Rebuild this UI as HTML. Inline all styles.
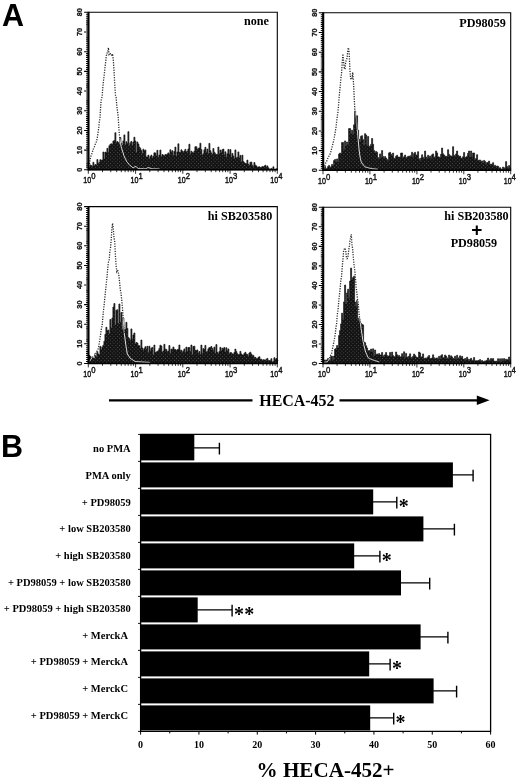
<!DOCTYPE html>
<html><head><meta charset="utf-8"><title>Figure</title>
<style>html,body{margin:0;padding:0;background:#fff}svg{display:block}</style>
</head><body>
<svg width="520" height="780" viewBox="0 0 520 780">
<defs>
<pattern id="ht" width="2.6" height="2.6" patternUnits="userSpaceOnUse" patternTransform="rotate(45)"><rect width="2.6" height="2.6" fill="#121212"/><rect x="0.8" y="0.8" width="0.9" height="0.9" fill="#5e5e5e"/></pattern>
</defs>
<rect width="520" height="780" fill="#fff"/>
<clipPath id="cp0"><path d="M88.9,169.8 L88.9,167.4 L89.9,167.4 L89.9,164.9 L90.9,164.9 L90.9,165.6 L91.9,165.6 L91.9,166.4 L92.9,166.4 L92.9,162.3 L93.9,162.3 L93.9,165.7 L94.9,165.7 L94.9,164.6 L95.9,164.6 L95.9,165.0 L96.9,165.0 L96.9,159.6 L97.9,159.6 L97.9,163.2 L98.9,163.2 L98.9,162.5 L99.9,162.5 L99.9,159.7 L100.9,159.7 L100.9,160.3 L101.9,160.3 L101.9,160.1 L102.9,160.1 L102.9,152.0 L103.9,152.0 L103.9,159.1 L104.9,159.1 L104.9,152.1 L105.9,152.1 L105.9,152.8 L106.9,152.8 L106.9,148.3 L107.9,148.3 L107.9,152.4 L108.9,152.4 L108.9,145.7 L109.9,145.7 L109.9,144.3 L110.9,144.3 L110.9,143.8 L111.9,143.8 L111.9,144.5 L112.9,144.5 L112.9,141.1 L113.9,141.1 L113.9,140.4 L114.9,140.4 L114.9,132.7 L115.9,132.7 L115.9,142.4 L116.9,142.4 L116.9,141.5 L117.9,141.5 L117.9,142.6 L118.9,142.6 L118.9,144.5 L119.9,144.5 L119.9,137.5 L120.9,137.5 L120.9,143.3 L121.9,143.3 L121.9,145.5 L122.9,145.5 L122.9,140.9 L123.9,140.9 L123.9,134.9 L124.9,134.9 L124.9,145.1 L125.9,145.1 L125.9,141.7 L126.9,141.7 L126.9,143.5 L127.9,143.5 L127.9,131.7 L128.9,131.7 L128.9,145.4 L129.9,145.4 L129.9,142.8 L130.9,142.8 L130.9,141.4 L131.9,141.4 L131.9,145.7 L132.9,145.7 L132.9,142.1 L133.9,142.1 L133.9,137.2 L134.9,137.2 L134.9,141.1 L135.9,141.1 L135.9,152.7 L136.9,152.7 L136.9,142.0 L137.9,142.0 L137.9,144.0 L138.9,144.0 L138.9,147.0 L139.9,147.0 L139.9,148.4 L140.9,148.4 L140.9,150.6 L141.9,150.6 L141.9,153.5 L142.9,153.5 L142.9,149.2 L143.9,149.2 L143.9,151.0 L144.9,151.0 L144.9,150.0 L145.9,150.0 L145.9,157.0 L146.9,157.0 L146.9,157.0 L147.9,157.0 L147.9,155.1 L148.9,155.1 L148.9,158.9 L149.9,158.9 L149.9,156.5 L150.9,156.5 L150.9,155.1 L151.9,155.1 L151.9,158.1 L152.9,158.1 L152.9,156.2 L153.9,156.2 L153.9,152.8 L154.9,152.8 L154.9,153.0 L155.9,153.0 L155.9,155.9 L156.9,155.9 L156.9,150.3 L157.9,150.3 L157.9,157.5 L158.9,157.5 L158.9,155.1 L159.9,155.1 L159.9,150.0 L160.9,150.0 L160.9,157.1 L161.9,157.1 L161.9,154.6 L162.9,154.6 L162.9,155.2 L163.9,155.2 L163.9,155.9 L164.9,155.9 L164.9,154.5 L165.9,154.5 L165.9,155.0 L166.9,155.0 L166.9,154.0 L167.9,154.0 L167.9,152.9 L168.9,152.9 L168.9,154.4 L169.9,154.4 L169.9,149.8 L170.9,149.8 L170.9,152.3 L171.9,152.3 L171.9,150.7 L172.9,150.7 L172.9,155.6 L173.9,155.6 L173.9,151.5 L174.9,151.5 L174.9,147.1 L175.9,147.1 L175.9,156.3 L176.9,156.3 L176.9,151.9 L177.9,151.9 L177.9,143.8 L178.9,143.8 L178.9,152.3 L179.9,152.3 L179.9,152.6 L180.9,152.6 L180.9,149.8 L181.9,149.8 L181.9,151.2 L182.9,151.2 L182.9,152.4 L183.9,152.4 L183.9,151.1 L184.9,151.1 L184.9,149.3 L185.9,149.3 L185.9,151.9 L186.9,151.9 L186.9,151.3 L187.9,151.3 L187.9,149.0 L188.9,149.0 L188.9,144.2 L189.9,144.2 L189.9,154.2 L190.9,154.2 L190.9,151.2 L191.9,151.2 L191.9,152.4 L192.9,152.4 L192.9,153.1 L193.9,153.1 L193.9,151.2 L194.9,151.2 L194.9,146.7 L195.9,146.7 L195.9,146.7 L196.9,146.7 L196.9,149.5 L197.9,149.5 L197.9,148.4 L198.9,148.4 L198.9,147.9 L199.9,147.9 L199.9,143.2 L200.9,143.2 L200.9,149.6 L201.9,149.6 L201.9,155.3 L202.9,155.3 L202.9,153.8 L203.9,153.8 L203.9,149.8 L204.9,149.8 L204.9,147.3 L205.9,147.3 L205.9,152.2 L206.9,152.2 L206.9,149.1 L207.9,149.1 L207.9,153.8 L208.9,153.8 L208.9,143.4 L209.9,143.4 L209.9,150.7 L210.9,150.7 L210.9,152.9 L211.9,152.9 L211.9,154.6 L212.9,154.6 L212.9,148.5 L213.9,148.5 L213.9,152.2 L214.9,152.2 L214.9,153.7 L215.9,153.7 L215.9,154.6 L216.9,154.6 L216.9,154.4 L217.9,154.4 L217.9,147.0 L218.9,147.0 L218.9,153.9 L219.9,153.9 L219.9,150.1 L220.9,150.1 L220.9,152.7 L221.9,152.7 L221.9,149.7 L222.9,149.7 L222.9,149.1 L223.9,149.1 L223.9,155.0 L224.9,155.0 L224.9,151.8 L225.9,151.8 L225.9,157.2 L226.9,157.2 L226.9,153.8 L227.9,153.8 L227.9,149.4 L228.9,149.4 L228.9,154.3 L229.9,154.3 L229.9,149.6 L230.9,149.6 L230.9,157.5 L231.9,157.5 L231.9,153.4 L232.9,153.4 L232.9,156.0 L233.9,156.0 L233.9,158.7 L234.9,158.7 L234.9,149.9 L235.9,149.9 L235.9,158.0 L236.9,158.0 L236.9,157.3 L237.9,157.3 L237.9,151.9 L238.9,151.9 L238.9,157.9 L239.9,157.9 L239.9,155.4 L240.9,155.4 L240.9,162.1 L241.9,162.1 L241.9,155.2 L242.9,155.2 L242.9,161.6 L243.9,161.6 L243.9,162.7 L244.9,162.7 L244.9,163.5 L245.9,163.5 L245.9,163.8 L246.9,163.8 L246.9,160.1 L247.9,160.1 L247.9,164.2 L248.9,164.2 L248.9,165.6 L249.9,165.6 L249.9,162.3 L250.9,162.3 L250.9,162.1 L251.9,162.1 L251.9,165.2 L252.9,165.2 L252.9,166.8 L253.9,166.8 L253.9,162.5 L254.9,162.5 L254.9,165.1 L255.9,165.1 L255.9,165.9 L256.9,165.9 L256.9,167.3 L257.9,167.3 L257.9,167.0 L258.9,167.0 L258.9,166.8 L259.9,166.8 L259.9,167.5 L260.9,167.5 L260.9,167.3 L261.9,167.3 L261.9,166.6 L262.9,166.6 L262.9,167.1 L263.9,167.1 L263.9,166.1 L264.9,166.1 L264.9,165.2 L265.9,165.2 L265.9,167.2 L266.9,167.2 L266.9,165.9 L267.9,165.9 L267.9,167.8 L268.9,167.8 L268.9,169.0 L269.9,169.0 L269.9,169.1 L270.9,169.1 L270.9,168.4 L271.9,168.4 L271.9,169.2 L272.9,169.2 L272.9,166.8 L273.9,166.8 L273.9,169.2 L274.9,169.2 L274.9,169.2 L275.9,169.2 L275.9,168.8 L276.9,168.8 L276.9,169.1 L277.9,169.1 L277.1,169.8 Z"/></clipPath>
<path d="M88.9,169.8 L88.9,167.4 L89.9,167.4 L89.9,164.9 L90.9,164.9 L90.9,165.6 L91.9,165.6 L91.9,166.4 L92.9,166.4 L92.9,162.3 L93.9,162.3 L93.9,165.7 L94.9,165.7 L94.9,164.6 L95.9,164.6 L95.9,165.0 L96.9,165.0 L96.9,159.6 L97.9,159.6 L97.9,163.2 L98.9,163.2 L98.9,162.5 L99.9,162.5 L99.9,159.7 L100.9,159.7 L100.9,160.3 L101.9,160.3 L101.9,160.1 L102.9,160.1 L102.9,152.0 L103.9,152.0 L103.9,159.1 L104.9,159.1 L104.9,152.1 L105.9,152.1 L105.9,152.8 L106.9,152.8 L106.9,148.3 L107.9,148.3 L107.9,152.4 L108.9,152.4 L108.9,145.7 L109.9,145.7 L109.9,144.3 L110.9,144.3 L110.9,143.8 L111.9,143.8 L111.9,144.5 L112.9,144.5 L112.9,141.1 L113.9,141.1 L113.9,140.4 L114.9,140.4 L114.9,132.7 L115.9,132.7 L115.9,142.4 L116.9,142.4 L116.9,141.5 L117.9,141.5 L117.9,142.6 L118.9,142.6 L118.9,144.5 L119.9,144.5 L119.9,137.5 L120.9,137.5 L120.9,143.3 L121.9,143.3 L121.9,145.5 L122.9,145.5 L122.9,140.9 L123.9,140.9 L123.9,134.9 L124.9,134.9 L124.9,145.1 L125.9,145.1 L125.9,141.7 L126.9,141.7 L126.9,143.5 L127.9,143.5 L127.9,131.7 L128.9,131.7 L128.9,145.4 L129.9,145.4 L129.9,142.8 L130.9,142.8 L130.9,141.4 L131.9,141.4 L131.9,145.7 L132.9,145.7 L132.9,142.1 L133.9,142.1 L133.9,137.2 L134.9,137.2 L134.9,141.1 L135.9,141.1 L135.9,152.7 L136.9,152.7 L136.9,142.0 L137.9,142.0 L137.9,144.0 L138.9,144.0 L138.9,147.0 L139.9,147.0 L139.9,148.4 L140.9,148.4 L140.9,150.6 L141.9,150.6 L141.9,153.5 L142.9,153.5 L142.9,149.2 L143.9,149.2 L143.9,151.0 L144.9,151.0 L144.9,150.0 L145.9,150.0 L145.9,157.0 L146.9,157.0 L146.9,157.0 L147.9,157.0 L147.9,155.1 L148.9,155.1 L148.9,158.9 L149.9,158.9 L149.9,156.5 L150.9,156.5 L150.9,155.1 L151.9,155.1 L151.9,158.1 L152.9,158.1 L152.9,156.2 L153.9,156.2 L153.9,152.8 L154.9,152.8 L154.9,153.0 L155.9,153.0 L155.9,155.9 L156.9,155.9 L156.9,150.3 L157.9,150.3 L157.9,157.5 L158.9,157.5 L158.9,155.1 L159.9,155.1 L159.9,150.0 L160.9,150.0 L160.9,157.1 L161.9,157.1 L161.9,154.6 L162.9,154.6 L162.9,155.2 L163.9,155.2 L163.9,155.9 L164.9,155.9 L164.9,154.5 L165.9,154.5 L165.9,155.0 L166.9,155.0 L166.9,154.0 L167.9,154.0 L167.9,152.9 L168.9,152.9 L168.9,154.4 L169.9,154.4 L169.9,149.8 L170.9,149.8 L170.9,152.3 L171.9,152.3 L171.9,150.7 L172.9,150.7 L172.9,155.6 L173.9,155.6 L173.9,151.5 L174.9,151.5 L174.9,147.1 L175.9,147.1 L175.9,156.3 L176.9,156.3 L176.9,151.9 L177.9,151.9 L177.9,143.8 L178.9,143.8 L178.9,152.3 L179.9,152.3 L179.9,152.6 L180.9,152.6 L180.9,149.8 L181.9,149.8 L181.9,151.2 L182.9,151.2 L182.9,152.4 L183.9,152.4 L183.9,151.1 L184.9,151.1 L184.9,149.3 L185.9,149.3 L185.9,151.9 L186.9,151.9 L186.9,151.3 L187.9,151.3 L187.9,149.0 L188.9,149.0 L188.9,144.2 L189.9,144.2 L189.9,154.2 L190.9,154.2 L190.9,151.2 L191.9,151.2 L191.9,152.4 L192.9,152.4 L192.9,153.1 L193.9,153.1 L193.9,151.2 L194.9,151.2 L194.9,146.7 L195.9,146.7 L195.9,146.7 L196.9,146.7 L196.9,149.5 L197.9,149.5 L197.9,148.4 L198.9,148.4 L198.9,147.9 L199.9,147.9 L199.9,143.2 L200.9,143.2 L200.9,149.6 L201.9,149.6 L201.9,155.3 L202.9,155.3 L202.9,153.8 L203.9,153.8 L203.9,149.8 L204.9,149.8 L204.9,147.3 L205.9,147.3 L205.9,152.2 L206.9,152.2 L206.9,149.1 L207.9,149.1 L207.9,153.8 L208.9,153.8 L208.9,143.4 L209.9,143.4 L209.9,150.7 L210.9,150.7 L210.9,152.9 L211.9,152.9 L211.9,154.6 L212.9,154.6 L212.9,148.5 L213.9,148.5 L213.9,152.2 L214.9,152.2 L214.9,153.7 L215.9,153.7 L215.9,154.6 L216.9,154.6 L216.9,154.4 L217.9,154.4 L217.9,147.0 L218.9,147.0 L218.9,153.9 L219.9,153.9 L219.9,150.1 L220.9,150.1 L220.9,152.7 L221.9,152.7 L221.9,149.7 L222.9,149.7 L222.9,149.1 L223.9,149.1 L223.9,155.0 L224.9,155.0 L224.9,151.8 L225.9,151.8 L225.9,157.2 L226.9,157.2 L226.9,153.8 L227.9,153.8 L227.9,149.4 L228.9,149.4 L228.9,154.3 L229.9,154.3 L229.9,149.6 L230.9,149.6 L230.9,157.5 L231.9,157.5 L231.9,153.4 L232.9,153.4 L232.9,156.0 L233.9,156.0 L233.9,158.7 L234.9,158.7 L234.9,149.9 L235.9,149.9 L235.9,158.0 L236.9,158.0 L236.9,157.3 L237.9,157.3 L237.9,151.9 L238.9,151.9 L238.9,157.9 L239.9,157.9 L239.9,155.4 L240.9,155.4 L240.9,162.1 L241.9,162.1 L241.9,155.2 L242.9,155.2 L242.9,161.6 L243.9,161.6 L243.9,162.7 L244.9,162.7 L244.9,163.5 L245.9,163.5 L245.9,163.8 L246.9,163.8 L246.9,160.1 L247.9,160.1 L247.9,164.2 L248.9,164.2 L248.9,165.6 L249.9,165.6 L249.9,162.3 L250.9,162.3 L250.9,162.1 L251.9,162.1 L251.9,165.2 L252.9,165.2 L252.9,166.8 L253.9,166.8 L253.9,162.5 L254.9,162.5 L254.9,165.1 L255.9,165.1 L255.9,165.9 L256.9,165.9 L256.9,167.3 L257.9,167.3 L257.9,167.0 L258.9,167.0 L258.9,166.8 L259.9,166.8 L259.9,167.5 L260.9,167.5 L260.9,167.3 L261.9,167.3 L261.9,166.6 L262.9,166.6 L262.9,167.1 L263.9,167.1 L263.9,166.1 L264.9,166.1 L264.9,165.2 L265.9,165.2 L265.9,167.2 L266.9,167.2 L266.9,165.9 L267.9,165.9 L267.9,167.8 L268.9,167.8 L268.9,169.0 L269.9,169.0 L269.9,169.1 L270.9,169.1 L270.9,168.4 L271.9,168.4 L271.9,169.2 L272.9,169.2 L272.9,166.8 L273.9,166.8 L273.9,169.2 L274.9,169.2 L274.9,169.2 L275.9,169.2 L275.9,168.8 L276.9,168.8 L276.9,169.1 L277.9,169.1 L277.1,169.8 Z" fill="url(#ht)" stroke="#111" stroke-width="0.7" stroke-linejoin="round"/>
<path d="M89.5,164.0 L90.2,158.8 L90.9,156.3 L91.6,154.4 L92.3,152.6 L93.0,149.9 L93.7,148.1 L94.4,146.8 L95.1,144.6 L95.8,143.0 L96.5,141.5 L97.2,138.3 L97.9,133.8 L98.6,128.7 L99.3,121.8 L100.0,117.5 L100.7,105.8 L101.4,98.8 L102.1,96.9 L102.8,87.4 L103.5,80.5 L104.2,75.6 L104.9,68.2 L105.6,62.6 L106.3,56.1 L107.0,53.0 L107.7,52.8 L108.4,47.7 L109.1,55.0 L109.8,54.8 L110.5,53.6 L111.2,53.5 L111.9,56.1 L112.6,53.8 L113.3,60.1 L114.0,70.3 L114.7,84.3 L115.4,94.9 L116.1,97.4 L116.8,106.0 L117.5,111.2 L118.2,117.0 L118.9,129.1 L119.6,137.3 L120.3,141.1 L121.0,146.2 L121.7,148.4 L122.4,151.1 L123.1,152.7 L123.8,155.4 L124.5,156.9 L125.2,158.4 L125.9,159.7 L126.6,161.4 L127.3,162.3 L128.0,163.0 L128.7,164.1 L129.4,164.8 L130.1,165.6 L130.8,166.1 L131.5,166.5 L132.2,167.2 L132.9,167.7 L133.6,167.6 L134.3,167.1 L135.0,166.8 L135.7,166.4 L136.4,166.7 L137.1,167.4 L137.8,168.3 L138.5,168.6 L139.2,168.6 L139.9,168.6 L140.6,168.7 L141.3,168.7 L142.0,168.7 L142.7,168.7 L143.4,168.8 L144.1,168.8 L144.8,168.8 L145.5,168.8 L146.2,168.7 L146.9,168.2 L147.6,167.7 L148.3,167.6 L149.0,167.8 L149.7,168.0 L150.4,168.3 L151.1,168.5 L151.8,168.7 L152.5,168.8 L153.2,168.8 L153.9,168.9 L154.6,168.9 L155.3,168.9 L156.0,168.9 L156.7,168.9 L157.4,168.9 L158.1,169.0 L158.8,169.0 L159.5,169.0 " fill="none" stroke="#2a2a2a" stroke-width="1.3" stroke-dasharray="1.2 1.3"/>
<path d="M89.5,164.0 L90.2,158.8 L90.9,156.3 L91.6,154.4 L92.3,152.6 L93.0,149.9 L93.7,148.1 L94.4,146.8 L95.1,144.6 L95.8,143.0 L96.5,141.5 L97.2,138.3 L97.9,133.8 L98.6,128.7 L99.3,121.8 L100.0,117.5 L100.7,105.8 L101.4,98.8 L102.1,96.9 L102.8,87.4 L103.5,80.5 L104.2,75.6 L104.9,68.2 L105.6,62.6 L106.3,56.1 L107.0,53.0 L107.7,52.8 L108.4,47.7 L109.1,55.0 L109.8,54.8 L110.5,53.6 L111.2,53.5 L111.9,56.1 L112.6,53.8 L113.3,60.1 L114.0,70.3 L114.7,84.3 L115.4,94.9 L116.1,97.4 L116.8,106.0 L117.5,111.2 L118.2,117.0 L118.9,129.1 L119.6,137.3 L120.3,141.1 L121.0,146.2 L121.7,148.4 L122.4,151.1 L123.1,152.7 L123.8,155.4 L124.5,156.9 L125.2,158.4 L125.9,159.7 L126.6,161.4 L127.3,162.3 L128.0,163.0 L128.7,164.1 L129.4,164.8 L130.1,165.6 L130.8,166.1 L131.5,166.5 L132.2,167.2 L132.9,167.7 L133.6,167.6 L134.3,167.1 L135.0,166.8 L135.7,166.4 L136.4,166.7 L137.1,167.4 L137.8,168.3 L138.5,168.6 L139.2,168.6 L139.9,168.6 L140.6,168.7 L141.3,168.7 L142.0,168.7 L142.7,168.7 L143.4,168.8 L144.1,168.8 L144.8,168.8 L145.5,168.8 L146.2,168.7 L146.9,168.2 L147.6,167.7 L148.3,167.6 L149.0,167.8 L149.7,168.0 L150.4,168.3 L151.1,168.5 L151.8,168.7 L152.5,168.8 L153.2,168.8 L153.9,168.9 L154.6,168.9 L155.3,168.9 L156.0,168.9 L156.7,168.9 L157.4,168.9 L158.1,169.0 L158.8,169.0 L159.5,169.0 " fill="none" stroke="#f4f4f4" stroke-width="0.9" clip-path="url(#cp0)"/>
<path d="M88.3,12.3 H277.3 V169.8" fill="none" stroke="#000" stroke-width="1.1"/>
<path d="M88.5,11.8 V170.4" fill="none" stroke="#000" stroke-width="2.1"/>
<path d="M87.8,169.8 H277.8" fill="none" stroke="#000" stroke-width="1.5"/>
<path d="M84.1,169.80 H88.3 M86.1,167.83 H88.3 M86.1,165.86 H88.3 M86.1,163.89 H88.3 M86.1,161.93 H88.3 M86.1,159.96 H88.3 M86.1,157.99 H88.3 M86.1,156.02 H88.3 M86.1,154.05 H88.3 M86.1,152.08 H88.3 M84.1,150.11 H88.3 M86.1,148.14 H88.3 M86.1,146.18 H88.3 M86.1,144.21 H88.3 M86.1,142.24 H88.3 M86.1,140.27 H88.3 M86.1,138.30 H88.3 M86.1,136.33 H88.3 M86.1,134.36 H88.3 M86.1,132.39 H88.3 M84.1,130.43 H88.3 M86.1,128.46 H88.3 M86.1,126.49 H88.3 M86.1,124.52 H88.3 M86.1,122.55 H88.3 M86.1,120.58 H88.3 M86.1,118.61 H88.3 M86.1,116.64 H88.3 M86.1,114.68 H88.3 M86.1,112.71 H88.3 M84.1,110.74 H88.3 M86.1,108.77 H88.3 M86.1,106.80 H88.3 M86.1,104.83 H88.3 M86.1,102.86 H88.3 M86.1,100.89 H88.3 M86.1,98.93 H88.3 M86.1,96.96 H88.3 M86.1,94.99 H88.3 M86.1,93.02 H88.3 M84.1,91.05 H88.3 M86.1,89.08 H88.3 M86.1,87.11 H88.3 M86.1,85.14 H88.3 M86.1,83.18 H88.3 M86.1,81.21 H88.3 M86.1,79.24 H88.3 M86.1,77.27 H88.3 M86.1,75.30 H88.3 M86.1,73.33 H88.3 M84.1,71.36 H88.3 M86.1,69.39 H88.3 M86.1,67.43 H88.3 M86.1,65.46 H88.3 M86.1,63.49 H88.3 M86.1,61.52 H88.3 M86.1,59.55 H88.3 M86.1,57.58 H88.3 M86.1,55.61 H88.3 M86.1,53.64 H88.3 M84.1,51.68 H88.3 M86.1,49.71 H88.3 M86.1,47.74 H88.3 M86.1,45.77 H88.3 M86.1,43.80 H88.3 M86.1,41.83 H88.3 M86.1,39.86 H88.3 M86.1,37.89 H88.3 M86.1,35.93 H88.3 M86.1,33.96 H88.3 M84.1,31.99 H88.3 M86.1,30.02 H88.3 M86.1,28.05 H88.3 M86.1,26.08 H88.3 M86.1,24.11 H88.3 M86.1,22.14 H88.3 M86.1,20.18 H88.3 M86.1,18.21 H88.3 M86.1,16.24 H88.3 M86.1,14.27 H88.3 M84.1,12.30 H88.3 " stroke="#000" stroke-width="1.05" fill="none"/>
<text transform="translate(82.3,169.8) rotate(-90)" font-family="'Liberation Sans', sans-serif" font-weight="bold" font-size="8.0" text-anchor="middle" textLength="4.0" lengthAdjust="spacingAndGlyphs" fill="#111" stroke="#111" stroke-width="0.3">0</text>
<text transform="translate(82.3,150.1) rotate(-90)" font-family="'Liberation Sans', sans-serif" font-weight="bold" font-size="8.0" text-anchor="middle" textLength="8.1" lengthAdjust="spacingAndGlyphs" fill="#111" stroke="#111" stroke-width="0.3">10</text>
<text transform="translate(82.3,130.4) rotate(-90)" font-family="'Liberation Sans', sans-serif" font-weight="bold" font-size="8.0" text-anchor="middle" textLength="8.1" lengthAdjust="spacingAndGlyphs" fill="#111" stroke="#111" stroke-width="0.3">20</text>
<text transform="translate(82.3,110.7) rotate(-90)" font-family="'Liberation Sans', sans-serif" font-weight="bold" font-size="8.0" text-anchor="middle" textLength="8.1" lengthAdjust="spacingAndGlyphs" fill="#111" stroke="#111" stroke-width="0.3">30</text>
<text transform="translate(82.3,91.1) rotate(-90)" font-family="'Liberation Sans', sans-serif" font-weight="bold" font-size="8.0" text-anchor="middle" textLength="8.1" lengthAdjust="spacingAndGlyphs" fill="#111" stroke="#111" stroke-width="0.3">40</text>
<text transform="translate(82.3,71.4) rotate(-90)" font-family="'Liberation Sans', sans-serif" font-weight="bold" font-size="8.0" text-anchor="middle" textLength="8.1" lengthAdjust="spacingAndGlyphs" fill="#111" stroke="#111" stroke-width="0.3">50</text>
<text transform="translate(82.3,51.7) rotate(-90)" font-family="'Liberation Sans', sans-serif" font-weight="bold" font-size="8.0" text-anchor="middle" textLength="8.1" lengthAdjust="spacingAndGlyphs" fill="#111" stroke="#111" stroke-width="0.3">60</text>
<text transform="translate(82.3,32.0) rotate(-90)" font-family="'Liberation Sans', sans-serif" font-weight="bold" font-size="8.0" text-anchor="middle" textLength="8.1" lengthAdjust="spacingAndGlyphs" fill="#111" stroke="#111" stroke-width="0.3">70</text>
<text transform="translate(82.3,12.3) rotate(-90)" font-family="'Liberation Sans', sans-serif" font-weight="bold" font-size="8.0" text-anchor="middle" textLength="8.1" lengthAdjust="spacingAndGlyphs" fill="#111" stroke="#111" stroke-width="0.3">80</text>
<path d="M88.3,169.8 v4.0 M102.5,169.8 v2.4 M110.8,169.8 v2.4 M116.7,169.8 v2.4 M121.3,169.8 v2.4 M125.1,169.8 v2.4 M128.2,169.8 v2.4 M131.0,169.8 v2.4 M133.4,169.8 v2.4 M135.6,169.8 v4.0 M149.8,169.8 v2.4 M158.1,169.8 v2.4 M164.0,169.8 v2.4 M168.6,169.8 v2.4 M172.3,169.8 v2.4 M175.5,169.8 v2.4 M178.2,169.8 v2.4 M180.6,169.8 v2.4 M182.8,169.8 v4.0 M197.0,169.8 v2.4 M205.3,169.8 v2.4 M211.2,169.8 v2.4 M215.8,169.8 v2.4 M219.6,169.8 v2.4 M222.7,169.8 v2.4 M225.5,169.8 v2.4 M227.9,169.8 v2.4 M230.1,169.8 v4.0 M244.3,169.8 v2.4 M252.6,169.8 v2.4 M258.5,169.8 v2.4 M263.1,169.8 v2.4 M266.8,169.8 v2.4 M270.0,169.8 v2.4 M272.7,169.8 v2.4 M275.1,169.8 v2.4 M277.3,169.8 v4 " stroke="#000" stroke-width="0.8" fill="none"/>
<text x="83.3" y="183.1" font-family="'Liberation Sans', sans-serif" font-size="9.4" textLength="7.9" lengthAdjust="spacingAndGlyphs" fill="#111" stroke="#111" stroke-width="0.45">10</text>
<text x="91.2" y="179.4" font-family="'Liberation Sans', sans-serif" font-size="8.4" textLength="4.3" lengthAdjust="spacingAndGlyphs" fill="#111" stroke="#111" stroke-width="0.4">0</text>
<text x="130.6" y="183.1" font-family="'Liberation Sans', sans-serif" font-size="9.4" textLength="7.9" lengthAdjust="spacingAndGlyphs" fill="#111" stroke="#111" stroke-width="0.45">10</text>
<text x="138.5" y="179.4" font-family="'Liberation Sans', sans-serif" font-size="8.4" textLength="4.3" lengthAdjust="spacingAndGlyphs" fill="#111" stroke="#111" stroke-width="0.4">1</text>
<text x="177.8" y="183.1" font-family="'Liberation Sans', sans-serif" font-size="9.4" textLength="7.9" lengthAdjust="spacingAndGlyphs" fill="#111" stroke="#111" stroke-width="0.45">10</text>
<text x="185.7" y="179.4" font-family="'Liberation Sans', sans-serif" font-size="8.4" textLength="4.3" lengthAdjust="spacingAndGlyphs" fill="#111" stroke="#111" stroke-width="0.4">2</text>
<text x="225.1" y="183.1" font-family="'Liberation Sans', sans-serif" font-size="9.4" textLength="7.9" lengthAdjust="spacingAndGlyphs" fill="#111" stroke="#111" stroke-width="0.45">10</text>
<text x="233.0" y="179.4" font-family="'Liberation Sans', sans-serif" font-size="8.4" textLength="4.3" lengthAdjust="spacingAndGlyphs" fill="#111" stroke="#111" stroke-width="0.4">3</text>
<text x="270.3" y="183.1" font-family="'Liberation Sans', sans-serif" font-size="9.4" textLength="7.9" lengthAdjust="spacingAndGlyphs" fill="#111" stroke="#111" stroke-width="0.45">10</text>
<text x="278.2" y="179.4" font-family="'Liberation Sans', sans-serif" font-size="8.4" textLength="4.3" lengthAdjust="spacingAndGlyphs" fill="#111" stroke="#111" stroke-width="0.4">4</text>
<text x="268.9" y="25.4" font-family="'Liberation Serif', serif" font-weight="bold" font-size="12.15" text-anchor="end" fill="#000">none</text>
<clipPath id="cp1"><path d="M323.6,170.3 L323.6,168.6 L324.6,168.6 L324.6,166.6 L325.6,166.6 L325.6,168.7 L326.6,168.7 L326.6,168.5 L327.6,168.5 L327.6,166.6 L328.6,166.6 L328.6,165.4 L329.6,165.4 L329.6,167.5 L330.6,167.5 L330.6,166.8 L331.6,166.8 L331.6,164.4 L332.6,164.4 L332.6,165.9 L333.6,165.9 L333.6,160.5 L334.6,160.5 L334.6,159.4 L335.6,159.4 L335.6,161.7 L336.6,161.7 L336.6,158.9 L337.6,158.9 L337.6,161.8 L338.6,161.8 L338.6,154.1 L339.6,154.1 L339.6,153.0 L340.6,153.0 L340.6,153.7 L341.6,153.7 L341.6,142.5 L342.6,142.5 L342.6,142.4 L343.6,142.4 L343.6,149.5 L344.6,149.5 L344.6,140.9 L345.6,140.9 L345.6,145.4 L346.6,145.4 L346.6,142.0 L347.6,142.0 L347.6,144.6 L348.6,144.6 L348.6,128.6 L349.6,128.6 L349.6,128.6 L350.6,128.6 L350.6,134.0 L351.6,134.0 L351.6,130.2 L352.6,130.2 L352.6,134.5 L353.6,134.5 L353.6,124.8 L354.6,124.8 L354.6,111.0 L355.6,111.0 L355.6,123.7 L356.6,123.7 L356.6,115.8 L357.6,115.8 L357.6,130.2 L358.6,130.2 L358.6,139.2 L359.6,139.2 L359.6,141.7 L360.6,141.7 L360.6,136.2 L361.6,136.2 L361.6,135.7 L362.6,135.7 L362.6,139.6 L363.6,139.6 L363.6,144.9 L364.6,144.9 L364.6,133.7 L365.6,133.7 L365.6,135.0 L366.6,135.0 L366.6,145.2 L367.6,145.2 L367.6,136.4 L368.6,136.4 L368.6,146.3 L369.6,146.3 L369.6,146.2 L370.6,146.2 L370.6,144.4 L371.6,144.4 L371.6,138.5 L372.6,138.5 L372.6,144.3 L373.6,144.3 L373.6,150.5 L374.6,150.5 L374.6,152.9 L375.6,152.9 L375.6,151.4 L376.6,151.4 L376.6,152.4 L377.6,152.4 L377.6,157.6 L378.6,157.6 L378.6,158.8 L379.6,158.8 L379.6,153.9 L380.6,153.9 L380.6,157.6 L381.6,157.6 L381.6,150.6 L382.6,150.6 L382.6,156.4 L383.6,156.4 L383.6,158.5 L384.6,158.5 L384.6,156.6 L385.6,156.6 L385.6,158.0 L386.6,158.0 L386.6,159.6 L387.6,159.6 L387.6,160.2 L388.6,160.2 L388.6,152.9 L389.6,152.9 L389.6,152.3 L390.6,152.3 L390.6,154.2 L391.6,154.2 L391.6,156.0 L392.6,156.0 L392.6,153.1 L393.6,153.1 L393.6,158.2 L394.6,158.2 L394.6,159.0 L395.6,159.0 L395.6,156.3 L396.6,156.3 L396.6,155.3 L397.6,155.3 L397.6,157.1 L398.6,157.1 L398.6,157.1 L399.6,157.1 L399.6,157.3 L400.6,157.3 L400.6,153.1 L401.6,153.1 L401.6,153.0 L402.6,153.0 L402.6,157.9 L403.6,157.9 L403.6,156.8 L404.6,156.8 L404.6,155.1 L405.6,155.1 L405.6,158.2 L406.6,158.2 L406.6,157.2 L407.6,157.2 L407.6,156.4 L408.6,156.4 L408.6,156.0 L409.6,156.0 L409.6,156.7 L410.6,156.7 L410.6,155.4 L411.6,155.4 L411.6,152.2 L412.6,152.2 L412.6,157.2 L413.6,157.2 L413.6,153.6 L414.6,153.6 L414.6,152.3 L415.6,152.3 L415.6,154.9 L416.6,154.9 L416.6,155.2 L417.6,155.2 L417.6,151.7 L418.6,151.7 L418.6,158.7 L419.6,158.7 L419.6,160.5 L420.6,160.5 L420.6,158.1 L421.6,158.1 L421.6,154.8 L422.6,154.8 L422.6,157.4 L423.6,157.4 L423.6,158.9 L424.6,158.9 L424.6,151.0 L425.6,151.0 L425.6,157.0 L426.6,157.0 L426.6,158.8 L427.6,158.8 L427.6,155.3 L428.6,155.3 L428.6,158.1 L429.6,158.1 L429.6,156.0 L430.6,156.0 L430.6,158.2 L431.6,158.2 L431.6,154.8 L432.6,154.8 L432.6,153.9 L433.6,153.9 L433.6,158.0 L434.6,158.0 L434.6,156.8 L435.6,156.8 L435.6,151.0 L436.6,151.0 L436.6,152.9 L437.6,152.9 L437.6,156.8 L438.6,156.8 L438.6,157.1 L439.6,157.1 L439.6,158.1 L440.6,158.1 L440.6,154.3 L441.6,154.3 L441.6,148.0 L442.6,148.0 L442.6,153.8 L443.6,153.8 L443.6,155.0 L444.6,155.0 L444.6,156.2 L445.6,156.2 L445.6,156.3 L446.6,156.3 L446.6,156.6 L447.6,156.6 L447.6,149.7 L448.6,149.7 L448.6,154.4 L449.6,154.4 L449.6,155.7 L450.6,155.7 L450.6,156.2 L451.6,156.2 L451.6,156.0 L452.6,156.0 L452.6,146.7 L453.6,146.7 L453.6,155.4 L454.6,155.4 L454.6,156.2 L455.6,156.2 L455.6,154.0 L456.6,154.0 L456.6,151.0 L457.6,151.0 L457.6,155.3 L458.6,155.3 L458.6,156.5 L459.6,156.5 L459.6,156.0 L460.6,156.0 L460.6,158.0 L461.6,158.0 L461.6,158.5 L462.6,158.5 L462.6,156.7 L463.6,156.7 L463.6,152.5 L464.6,152.5 L464.6,158.1 L465.6,158.1 L465.6,157.1 L466.6,157.1 L466.6,156.4 L467.6,156.4 L467.6,153.3 L468.6,153.3 L468.6,151.0 L469.6,151.0 L469.6,156.9 L470.6,156.9 L470.6,151.0 L471.6,151.0 L471.6,157.0 L472.6,157.0 L472.6,153.0 L473.6,153.0 L473.6,153.0 L474.6,153.0 L474.6,159.8 L475.6,159.8 L475.6,158.5 L476.6,158.5 L476.6,154.7 L477.6,154.7 L477.6,160.6 L478.6,160.6 L478.6,160.2 L479.6,160.2 L479.6,160.0 L480.6,160.0 L480.6,161.8 L481.6,161.8 L481.6,160.9 L482.6,160.9 L482.6,162.9 L483.6,162.9 L483.6,160.4 L484.6,160.4 L484.6,161.4 L485.6,161.4 L485.6,164.2 L486.6,164.2 L486.6,162.5 L487.6,162.5 L487.6,162.6 L488.6,162.6 L488.6,161.1 L489.6,161.1 L489.6,164.8 L490.6,164.8 L490.6,164.0 L491.6,164.0 L491.6,164.5 L492.6,164.5 L492.6,162.7 L493.6,162.7 L493.6,166.2 L494.6,166.2 L494.6,165.3 L495.6,165.3 L495.6,166.6 L496.6,166.6 L496.6,166.1 L497.6,166.1 L497.6,166.3 L498.6,166.3 L498.6,168.3 L499.6,168.3 L499.6,167.7 L500.6,167.7 L500.6,169.0 L501.6,169.0 L501.6,169.3 L502.6,169.3 L502.6,167.1 L503.6,167.1 L503.6,169.2 L504.6,169.2 L504.6,167.7 L505.6,167.7 L505.6,161.6 L506.6,161.6 L506.6,166.5 L507.6,166.5 L507.6,168.2 L508.6,168.2 L508.6,165.6 L509.6,165.6 L509.6,167.9 L510.6,167.9 L510.5,170.3 Z"/></clipPath>
<path d="M323.6,170.3 L323.6,168.6 L324.6,168.6 L324.6,166.6 L325.6,166.6 L325.6,168.7 L326.6,168.7 L326.6,168.5 L327.6,168.5 L327.6,166.6 L328.6,166.6 L328.6,165.4 L329.6,165.4 L329.6,167.5 L330.6,167.5 L330.6,166.8 L331.6,166.8 L331.6,164.4 L332.6,164.4 L332.6,165.9 L333.6,165.9 L333.6,160.5 L334.6,160.5 L334.6,159.4 L335.6,159.4 L335.6,161.7 L336.6,161.7 L336.6,158.9 L337.6,158.9 L337.6,161.8 L338.6,161.8 L338.6,154.1 L339.6,154.1 L339.6,153.0 L340.6,153.0 L340.6,153.7 L341.6,153.7 L341.6,142.5 L342.6,142.5 L342.6,142.4 L343.6,142.4 L343.6,149.5 L344.6,149.5 L344.6,140.9 L345.6,140.9 L345.6,145.4 L346.6,145.4 L346.6,142.0 L347.6,142.0 L347.6,144.6 L348.6,144.6 L348.6,128.6 L349.6,128.6 L349.6,128.6 L350.6,128.6 L350.6,134.0 L351.6,134.0 L351.6,130.2 L352.6,130.2 L352.6,134.5 L353.6,134.5 L353.6,124.8 L354.6,124.8 L354.6,111.0 L355.6,111.0 L355.6,123.7 L356.6,123.7 L356.6,115.8 L357.6,115.8 L357.6,130.2 L358.6,130.2 L358.6,139.2 L359.6,139.2 L359.6,141.7 L360.6,141.7 L360.6,136.2 L361.6,136.2 L361.6,135.7 L362.6,135.7 L362.6,139.6 L363.6,139.6 L363.6,144.9 L364.6,144.9 L364.6,133.7 L365.6,133.7 L365.6,135.0 L366.6,135.0 L366.6,145.2 L367.6,145.2 L367.6,136.4 L368.6,136.4 L368.6,146.3 L369.6,146.3 L369.6,146.2 L370.6,146.2 L370.6,144.4 L371.6,144.4 L371.6,138.5 L372.6,138.5 L372.6,144.3 L373.6,144.3 L373.6,150.5 L374.6,150.5 L374.6,152.9 L375.6,152.9 L375.6,151.4 L376.6,151.4 L376.6,152.4 L377.6,152.4 L377.6,157.6 L378.6,157.6 L378.6,158.8 L379.6,158.8 L379.6,153.9 L380.6,153.9 L380.6,157.6 L381.6,157.6 L381.6,150.6 L382.6,150.6 L382.6,156.4 L383.6,156.4 L383.6,158.5 L384.6,158.5 L384.6,156.6 L385.6,156.6 L385.6,158.0 L386.6,158.0 L386.6,159.6 L387.6,159.6 L387.6,160.2 L388.6,160.2 L388.6,152.9 L389.6,152.9 L389.6,152.3 L390.6,152.3 L390.6,154.2 L391.6,154.2 L391.6,156.0 L392.6,156.0 L392.6,153.1 L393.6,153.1 L393.6,158.2 L394.6,158.2 L394.6,159.0 L395.6,159.0 L395.6,156.3 L396.6,156.3 L396.6,155.3 L397.6,155.3 L397.6,157.1 L398.6,157.1 L398.6,157.1 L399.6,157.1 L399.6,157.3 L400.6,157.3 L400.6,153.1 L401.6,153.1 L401.6,153.0 L402.6,153.0 L402.6,157.9 L403.6,157.9 L403.6,156.8 L404.6,156.8 L404.6,155.1 L405.6,155.1 L405.6,158.2 L406.6,158.2 L406.6,157.2 L407.6,157.2 L407.6,156.4 L408.6,156.4 L408.6,156.0 L409.6,156.0 L409.6,156.7 L410.6,156.7 L410.6,155.4 L411.6,155.4 L411.6,152.2 L412.6,152.2 L412.6,157.2 L413.6,157.2 L413.6,153.6 L414.6,153.6 L414.6,152.3 L415.6,152.3 L415.6,154.9 L416.6,154.9 L416.6,155.2 L417.6,155.2 L417.6,151.7 L418.6,151.7 L418.6,158.7 L419.6,158.7 L419.6,160.5 L420.6,160.5 L420.6,158.1 L421.6,158.1 L421.6,154.8 L422.6,154.8 L422.6,157.4 L423.6,157.4 L423.6,158.9 L424.6,158.9 L424.6,151.0 L425.6,151.0 L425.6,157.0 L426.6,157.0 L426.6,158.8 L427.6,158.8 L427.6,155.3 L428.6,155.3 L428.6,158.1 L429.6,158.1 L429.6,156.0 L430.6,156.0 L430.6,158.2 L431.6,158.2 L431.6,154.8 L432.6,154.8 L432.6,153.9 L433.6,153.9 L433.6,158.0 L434.6,158.0 L434.6,156.8 L435.6,156.8 L435.6,151.0 L436.6,151.0 L436.6,152.9 L437.6,152.9 L437.6,156.8 L438.6,156.8 L438.6,157.1 L439.6,157.1 L439.6,158.1 L440.6,158.1 L440.6,154.3 L441.6,154.3 L441.6,148.0 L442.6,148.0 L442.6,153.8 L443.6,153.8 L443.6,155.0 L444.6,155.0 L444.6,156.2 L445.6,156.2 L445.6,156.3 L446.6,156.3 L446.6,156.6 L447.6,156.6 L447.6,149.7 L448.6,149.7 L448.6,154.4 L449.6,154.4 L449.6,155.7 L450.6,155.7 L450.6,156.2 L451.6,156.2 L451.6,156.0 L452.6,156.0 L452.6,146.7 L453.6,146.7 L453.6,155.4 L454.6,155.4 L454.6,156.2 L455.6,156.2 L455.6,154.0 L456.6,154.0 L456.6,151.0 L457.6,151.0 L457.6,155.3 L458.6,155.3 L458.6,156.5 L459.6,156.5 L459.6,156.0 L460.6,156.0 L460.6,158.0 L461.6,158.0 L461.6,158.5 L462.6,158.5 L462.6,156.7 L463.6,156.7 L463.6,152.5 L464.6,152.5 L464.6,158.1 L465.6,158.1 L465.6,157.1 L466.6,157.1 L466.6,156.4 L467.6,156.4 L467.6,153.3 L468.6,153.3 L468.6,151.0 L469.6,151.0 L469.6,156.9 L470.6,156.9 L470.6,151.0 L471.6,151.0 L471.6,157.0 L472.6,157.0 L472.6,153.0 L473.6,153.0 L473.6,153.0 L474.6,153.0 L474.6,159.8 L475.6,159.8 L475.6,158.5 L476.6,158.5 L476.6,154.7 L477.6,154.7 L477.6,160.6 L478.6,160.6 L478.6,160.2 L479.6,160.2 L479.6,160.0 L480.6,160.0 L480.6,161.8 L481.6,161.8 L481.6,160.9 L482.6,160.9 L482.6,162.9 L483.6,162.9 L483.6,160.4 L484.6,160.4 L484.6,161.4 L485.6,161.4 L485.6,164.2 L486.6,164.2 L486.6,162.5 L487.6,162.5 L487.6,162.6 L488.6,162.6 L488.6,161.1 L489.6,161.1 L489.6,164.8 L490.6,164.8 L490.6,164.0 L491.6,164.0 L491.6,164.5 L492.6,164.5 L492.6,162.7 L493.6,162.7 L493.6,166.2 L494.6,166.2 L494.6,165.3 L495.6,165.3 L495.6,166.6 L496.6,166.6 L496.6,166.1 L497.6,166.1 L497.6,166.3 L498.6,166.3 L498.6,168.3 L499.6,168.3 L499.6,167.7 L500.6,167.7 L500.6,169.0 L501.6,169.0 L501.6,169.3 L502.6,169.3 L502.6,167.1 L503.6,167.1 L503.6,169.2 L504.6,169.2 L504.6,167.7 L505.6,167.7 L505.6,161.6 L506.6,161.6 L506.6,166.5 L507.6,166.5 L507.6,168.2 L508.6,168.2 L508.6,165.6 L509.6,165.6 L509.6,167.9 L510.6,167.9 L510.5,170.3 Z" fill="url(#ht)" stroke="#111" stroke-width="0.7" stroke-linejoin="round"/>
<path d="M324.0,168.4 L324.7,166.1 L325.4,163.8 L326.1,162.1 L326.8,160.9 L327.5,159.1 L328.2,157.6 L328.9,156.2 L329.6,155.3 L330.3,153.4 L331.0,151.2 L331.7,148.4 L332.4,145.5 L333.1,143.0 L333.8,139.9 L334.5,136.3 L335.2,132.2 L335.9,128.0 L336.6,121.7 L337.3,116.3 L338.0,111.8 L338.7,103.4 L339.4,94.2 L340.1,87.3 L340.8,78.7 L341.5,73.8 L342.2,62.7 L342.9,53.9 L343.6,61.7 L344.3,67.9 L345.0,69.2 L345.7,62.0 L346.4,60.0 L347.1,57.9 L347.8,49.8 L348.5,47.7 L349.2,53.4 L349.9,70.0 L350.6,78.6 L351.3,78.8 L352.0,79.3 L352.7,72.4 L353.4,81.1 L354.1,94.8 L354.8,109.6 L355.5,114.3 L356.2,117.3 L356.9,124.3 L357.6,133.0 L358.3,141.0 L359.0,148.9 L359.7,154.6 L360.4,158.5 L361.1,161.5 L361.8,162.9 L362.5,164.0 L363.2,164.8 L363.9,165.4 L364.6,166.3 L365.3,167.1 L366.0,167.2 L366.7,167.4 L367.4,167.5 L368.1,167.8 L368.8,167.9 L369.5,168.1 L370.2,168.3 L370.9,168.4 L371.6,168.5 L372.3,168.7 L373.0,168.7 L373.7,168.8 L374.4,168.9 L375.1,168.9 L375.8,169.1 L376.5,169.1 L377.2,169.2 L377.9,169.3 " fill="none" stroke="#2a2a2a" stroke-width="1.3" stroke-dasharray="1.2 1.3"/>
<path d="M324.0,168.4 L324.7,166.1 L325.4,163.8 L326.1,162.1 L326.8,160.9 L327.5,159.1 L328.2,157.6 L328.9,156.2 L329.6,155.3 L330.3,153.4 L331.0,151.2 L331.7,148.4 L332.4,145.5 L333.1,143.0 L333.8,139.9 L334.5,136.3 L335.2,132.2 L335.9,128.0 L336.6,121.7 L337.3,116.3 L338.0,111.8 L338.7,103.4 L339.4,94.2 L340.1,87.3 L340.8,78.7 L341.5,73.8 L342.2,62.7 L342.9,53.9 L343.6,61.7 L344.3,67.9 L345.0,69.2 L345.7,62.0 L346.4,60.0 L347.1,57.9 L347.8,49.8 L348.5,47.7 L349.2,53.4 L349.9,70.0 L350.6,78.6 L351.3,78.8 L352.0,79.3 L352.7,72.4 L353.4,81.1 L354.1,94.8 L354.8,109.6 L355.5,114.3 L356.2,117.3 L356.9,124.3 L357.6,133.0 L358.3,141.0 L359.0,148.9 L359.7,154.6 L360.4,158.5 L361.1,161.5 L361.8,162.9 L362.5,164.0 L363.2,164.8 L363.9,165.4 L364.6,166.3 L365.3,167.1 L366.0,167.2 L366.7,167.4 L367.4,167.5 L368.1,167.8 L368.8,167.9 L369.5,168.1 L370.2,168.3 L370.9,168.4 L371.6,168.5 L372.3,168.7 L373.0,168.7 L373.7,168.8 L374.4,168.9 L375.1,168.9 L375.8,169.1 L376.5,169.1 L377.2,169.2 L377.9,169.3 " fill="none" stroke="#f4f4f4" stroke-width="0.9" clip-path="url(#cp1)"/>
<path d="M323.0,12.8 H510.7 V170.3" fill="none" stroke="#000" stroke-width="1.1"/>
<path d="M323.2,12.3 V170.9" fill="none" stroke="#000" stroke-width="2.1"/>
<path d="M322.5,170.3 H511.2" fill="none" stroke="#000" stroke-width="1.5"/>
<path d="M318.8,170.30 H323.0 M320.8,168.33 H323.0 M320.8,166.36 H323.0 M320.8,164.39 H323.0 M320.8,162.43 H323.0 M320.8,160.46 H323.0 M320.8,158.49 H323.0 M320.8,156.52 H323.0 M320.8,154.55 H323.0 M320.8,152.58 H323.0 M318.8,150.61 H323.0 M320.8,148.64 H323.0 M320.8,146.68 H323.0 M320.8,144.71 H323.0 M320.8,142.74 H323.0 M320.8,140.77 H323.0 M320.8,138.80 H323.0 M320.8,136.83 H323.0 M320.8,134.86 H323.0 M320.8,132.89 H323.0 M318.8,130.93 H323.0 M320.8,128.96 H323.0 M320.8,126.99 H323.0 M320.8,125.02 H323.0 M320.8,123.05 H323.0 M320.8,121.08 H323.0 M320.8,119.11 H323.0 M320.8,117.14 H323.0 M320.8,115.18 H323.0 M320.8,113.21 H323.0 M318.8,111.24 H323.0 M320.8,109.27 H323.0 M320.8,107.30 H323.0 M320.8,105.33 H323.0 M320.8,103.36 H323.0 M320.8,101.39 H323.0 M320.8,99.43 H323.0 M320.8,97.46 H323.0 M320.8,95.49 H323.0 M320.8,93.52 H323.0 M318.8,91.55 H323.0 M320.8,89.58 H323.0 M320.8,87.61 H323.0 M320.8,85.64 H323.0 M320.8,83.68 H323.0 M320.8,81.71 H323.0 M320.8,79.74 H323.0 M320.8,77.77 H323.0 M320.8,75.80 H323.0 M320.8,73.83 H323.0 M318.8,71.86 H323.0 M320.8,69.89 H323.0 M320.8,67.93 H323.0 M320.8,65.96 H323.0 M320.8,63.99 H323.0 M320.8,62.02 H323.0 M320.8,60.05 H323.0 M320.8,58.08 H323.0 M320.8,56.11 H323.0 M320.8,54.14 H323.0 M318.8,52.18 H323.0 M320.8,50.21 H323.0 M320.8,48.24 H323.0 M320.8,46.27 H323.0 M320.8,44.30 H323.0 M320.8,42.33 H323.0 M320.8,40.36 H323.0 M320.8,38.39 H323.0 M320.8,36.43 H323.0 M320.8,34.46 H323.0 M318.8,32.49 H323.0 M320.8,30.52 H323.0 M320.8,28.55 H323.0 M320.8,26.58 H323.0 M320.8,24.61 H323.0 M320.8,22.64 H323.0 M320.8,20.68 H323.0 M320.8,18.71 H323.0 M320.8,16.74 H323.0 M320.8,14.77 H323.0 M318.8,12.80 H323.0 " stroke="#000" stroke-width="1.05" fill="none"/>
<text transform="translate(317.0,170.3) rotate(-90)" font-family="'Liberation Sans', sans-serif" font-weight="bold" font-size="8.0" text-anchor="middle" textLength="4.0" lengthAdjust="spacingAndGlyphs" fill="#111" stroke="#111" stroke-width="0.3">0</text>
<text transform="translate(317.0,150.6) rotate(-90)" font-family="'Liberation Sans', sans-serif" font-weight="bold" font-size="8.0" text-anchor="middle" textLength="8.1" lengthAdjust="spacingAndGlyphs" fill="#111" stroke="#111" stroke-width="0.3">10</text>
<text transform="translate(317.0,130.9) rotate(-90)" font-family="'Liberation Sans', sans-serif" font-weight="bold" font-size="8.0" text-anchor="middle" textLength="8.1" lengthAdjust="spacingAndGlyphs" fill="#111" stroke="#111" stroke-width="0.3">20</text>
<text transform="translate(317.0,111.2) rotate(-90)" font-family="'Liberation Sans', sans-serif" font-weight="bold" font-size="8.0" text-anchor="middle" textLength="8.1" lengthAdjust="spacingAndGlyphs" fill="#111" stroke="#111" stroke-width="0.3">30</text>
<text transform="translate(317.0,91.6) rotate(-90)" font-family="'Liberation Sans', sans-serif" font-weight="bold" font-size="8.0" text-anchor="middle" textLength="8.1" lengthAdjust="spacingAndGlyphs" fill="#111" stroke="#111" stroke-width="0.3">40</text>
<text transform="translate(317.0,71.9) rotate(-90)" font-family="'Liberation Sans', sans-serif" font-weight="bold" font-size="8.0" text-anchor="middle" textLength="8.1" lengthAdjust="spacingAndGlyphs" fill="#111" stroke="#111" stroke-width="0.3">50</text>
<text transform="translate(317.0,52.2) rotate(-90)" font-family="'Liberation Sans', sans-serif" font-weight="bold" font-size="8.0" text-anchor="middle" textLength="8.1" lengthAdjust="spacingAndGlyphs" fill="#111" stroke="#111" stroke-width="0.3">60</text>
<text transform="translate(317.0,32.5) rotate(-90)" font-family="'Liberation Sans', sans-serif" font-weight="bold" font-size="8.0" text-anchor="middle" textLength="8.1" lengthAdjust="spacingAndGlyphs" fill="#111" stroke="#111" stroke-width="0.3">70</text>
<text transform="translate(317.0,12.8) rotate(-90)" font-family="'Liberation Sans', sans-serif" font-weight="bold" font-size="8.0" text-anchor="middle" textLength="8.1" lengthAdjust="spacingAndGlyphs" fill="#111" stroke="#111" stroke-width="0.3">80</text>
<path d="M323.0,170.3 v4.0 M337.1,170.3 v2.4 M345.4,170.3 v2.4 M351.3,170.3 v2.4 M355.8,170.3 v2.4 M359.5,170.3 v2.4 M362.7,170.3 v2.4 M365.4,170.3 v2.4 M367.8,170.3 v2.4 M369.9,170.3 v4.0 M384.1,170.3 v2.4 M392.3,170.3 v2.4 M398.2,170.3 v2.4 M402.7,170.3 v2.4 M406.4,170.3 v2.4 M409.6,170.3 v2.4 M412.3,170.3 v2.4 M414.7,170.3 v2.4 M416.9,170.3 v4.0 M431.0,170.3 v2.4 M439.2,170.3 v2.4 M445.1,170.3 v2.4 M449.6,170.3 v2.4 M453.4,170.3 v2.4 M456.5,170.3 v2.4 M459.2,170.3 v2.4 M461.6,170.3 v2.4 M463.8,170.3 v4.0 M477.9,170.3 v2.4 M486.2,170.3 v2.4 M492.0,170.3 v2.4 M496.6,170.3 v2.4 M500.3,170.3 v2.4 M503.4,170.3 v2.4 M506.2,170.3 v2.4 M508.6,170.3 v2.4 M510.7,170.3 v4 " stroke="#000" stroke-width="0.8" fill="none"/>
<text x="318.0" y="183.6" font-family="'Liberation Sans', sans-serif" font-size="9.4" textLength="7.9" lengthAdjust="spacingAndGlyphs" fill="#111" stroke="#111" stroke-width="0.45">10</text>
<text x="325.9" y="179.9" font-family="'Liberation Sans', sans-serif" font-size="8.4" textLength="4.3" lengthAdjust="spacingAndGlyphs" fill="#111" stroke="#111" stroke-width="0.4">0</text>
<text x="364.9" y="183.6" font-family="'Liberation Sans', sans-serif" font-size="9.4" textLength="7.9" lengthAdjust="spacingAndGlyphs" fill="#111" stroke="#111" stroke-width="0.45">10</text>
<text x="372.8" y="179.9" font-family="'Liberation Sans', sans-serif" font-size="8.4" textLength="4.3" lengthAdjust="spacingAndGlyphs" fill="#111" stroke="#111" stroke-width="0.4">1</text>
<text x="411.9" y="183.6" font-family="'Liberation Sans', sans-serif" font-size="9.4" textLength="7.9" lengthAdjust="spacingAndGlyphs" fill="#111" stroke="#111" stroke-width="0.45">10</text>
<text x="419.8" y="179.9" font-family="'Liberation Sans', sans-serif" font-size="8.4" textLength="4.3" lengthAdjust="spacingAndGlyphs" fill="#111" stroke="#111" stroke-width="0.4">2</text>
<text x="458.8" y="183.6" font-family="'Liberation Sans', sans-serif" font-size="9.4" textLength="7.9" lengthAdjust="spacingAndGlyphs" fill="#111" stroke="#111" stroke-width="0.45">10</text>
<text x="466.7" y="179.9" font-family="'Liberation Sans', sans-serif" font-size="8.4" textLength="4.3" lengthAdjust="spacingAndGlyphs" fill="#111" stroke="#111" stroke-width="0.4">3</text>
<text x="503.7" y="183.6" font-family="'Liberation Sans', sans-serif" font-size="9.4" textLength="7.9" lengthAdjust="spacingAndGlyphs" fill="#111" stroke="#111" stroke-width="0.45">10</text>
<text x="511.6" y="179.9" font-family="'Liberation Sans', sans-serif" font-size="8.4" textLength="4.3" lengthAdjust="spacingAndGlyphs" fill="#111" stroke="#111" stroke-width="0.4">4</text>
<text x="505.8" y="26.8" font-family="'Liberation Serif', serif" font-weight="bold" font-size="12.15" text-anchor="end" fill="#000">PD98059</text>
<clipPath id="cp2"><path d="M88.9,363.4 L88.9,355.6 L89.9,355.6 L89.9,356.3 L90.9,356.3 L90.9,357.9 L91.9,357.9 L91.9,358.0 L92.9,358.0 L92.9,358.0 L93.9,358.0 L93.9,358.6 L94.9,358.6 L94.9,353.4 L95.9,353.4 L95.9,356.8 L96.9,356.8 L96.9,351.5 L97.9,351.5 L97.9,354.1 L98.9,354.1 L98.9,355.0 L99.9,355.0 L99.9,346.4 L100.9,346.4 L100.9,349.8 L101.9,349.8 L101.9,346.9 L102.9,346.9 L102.9,345.2 L103.9,345.2 L103.9,341.2 L104.9,341.2 L104.9,334.3 L105.9,334.3 L105.9,327.3 L106.9,327.3 L106.9,330.7 L107.9,330.7 L107.9,330.1 L108.9,330.1 L108.9,333.8 L109.9,333.8 L109.9,319.5 L110.9,319.5 L110.9,327.9 L111.9,327.9 L111.9,318.1 L112.9,318.1 L112.9,307.0 L113.9,307.0 L113.9,303.5 L114.9,303.5 L114.9,324.9 L115.9,324.9 L115.9,310.2 L116.9,310.2 L116.9,309.8 L117.9,309.8 L117.9,323.6 L118.9,323.6 L118.9,304.0 L119.9,304.0 L119.9,322.2 L120.9,322.2 L120.9,312.5 L121.9,312.5 L121.9,329.6 L122.9,329.6 L122.9,318.0 L123.9,318.0 L123.9,332.9 L124.9,332.9 L124.9,329.3 L125.9,329.3 L125.9,322.3 L126.9,322.3 L126.9,328.4 L127.9,328.4 L127.9,337.5 L128.9,337.5 L128.9,338.7 L129.9,338.7 L129.9,340.4 L130.9,340.4 L130.9,328.9 L131.9,328.9 L131.9,339.2 L132.9,339.2 L132.9,335.0 L133.9,335.0 L133.9,333.0 L134.9,333.0 L134.9,344.0 L135.9,344.0 L135.9,342.5 L136.9,342.5 L136.9,343.0 L137.9,343.0 L137.9,345.4 L138.9,345.4 L138.9,345.7 L139.9,345.7 L139.9,348.6 L140.9,348.6 L140.9,340.0 L141.9,340.0 L141.9,348.0 L142.9,348.0 L142.9,350.4 L143.9,350.4 L143.9,348.6 L144.9,348.6 L144.9,346.7 L145.9,346.7 L145.9,349.2 L146.9,349.2 L146.9,346.3 L147.9,346.3 L147.9,352.7 L148.9,352.7 L148.9,346.2 L149.9,346.2 L149.9,350.9 L150.9,350.9 L150.9,348.2 L151.9,348.2 L151.9,347.4 L152.9,347.4 L152.9,355.0 L153.9,355.0 L153.9,345.1 L154.9,345.1 L154.9,352.4 L155.9,352.4 L155.9,351.9 L156.9,351.9 L156.9,351.6 L157.9,351.6 L157.9,350.6 L158.9,350.6 L158.9,348.4 L159.9,348.4 L159.9,345.2 L160.9,345.2 L160.9,346.0 L161.9,346.0 L161.9,352.3 L162.9,352.3 L162.9,351.1 L163.9,351.1 L163.9,344.3 L164.9,344.3 L164.9,349.2 L165.9,349.2 L165.9,349.4 L166.9,349.4 L166.9,351.8 L167.9,351.8 L167.9,351.1 L168.9,351.1 L168.9,345.5 L169.9,345.5 L169.9,353.4 L170.9,353.4 L170.9,349.1 L171.9,349.1 L171.9,349.4 L172.9,349.4 L172.9,347.0 L173.9,347.0 L173.9,349.2 L174.9,349.2 L174.9,349.5 L175.9,349.5 L175.9,350.6 L176.9,350.6 L176.9,349.8 L177.9,349.8 L177.9,349.1 L178.9,349.1 L178.9,345.0 L179.9,345.0 L179.9,350.4 L180.9,350.4 L180.9,350.2 L181.9,350.2 L181.9,352.4 L182.9,352.4 L182.9,350.9 L183.9,350.9 L183.9,348.9 L184.9,348.9 L184.9,352.4 L185.9,352.4 L185.9,347.1 L186.9,347.1 L186.9,351.6 L187.9,351.6 L187.9,347.5 L188.9,347.5 L188.9,347.6 L189.9,347.6 L189.9,351.6 L190.9,351.6 L190.9,345.0 L191.9,345.0 L191.9,354.8 L192.9,354.8 L192.9,346.5 L193.9,346.5 L193.9,346.2 L194.9,346.2 L194.9,350.3 L195.9,350.3 L195.9,350.6 L196.9,350.6 L196.9,349.9 L197.9,349.9 L197.9,353.3 L198.9,353.3 L198.9,351.5 L199.9,351.5 L199.9,354.5 L200.9,354.5 L200.9,345.1 L201.9,345.1 L201.9,353.4 L202.9,353.4 L202.9,348.6 L203.9,348.6 L203.9,349.5 L204.9,349.5 L204.9,345.4 L205.9,345.4 L205.9,351.9 L206.9,351.9 L206.9,351.4 L207.9,351.4 L207.9,348.8 L208.9,348.8 L208.9,347.5 L209.9,347.5 L209.9,347.5 L210.9,347.5 L210.9,346.5 L211.9,346.5 L211.9,348.5 L212.9,348.5 L212.9,350.4 L213.9,350.4 L213.9,347.1 L214.9,347.1 L214.9,353.6 L215.9,353.6 L215.9,344.6 L216.9,344.6 L216.9,352.3 L217.9,352.3 L217.9,354.1 L218.9,354.1 L218.9,351.5 L219.9,351.5 L219.9,347.3 L220.9,347.3 L220.9,351.1 L221.9,351.1 L221.9,348.2 L222.9,348.2 L222.9,348.8 L223.9,348.8 L223.9,347.4 L224.9,347.4 L224.9,352.1 L225.9,352.1 L225.9,347.8 L226.9,347.8 L226.9,351.0 L227.9,351.0 L227.9,348.9 L228.9,348.9 L228.9,353.9 L229.9,353.9 L229.9,352.6 L230.9,352.6 L230.9,352.8 L231.9,352.8 L231.9,353.9 L232.9,353.9 L232.9,354.2 L233.9,354.2 L233.9,352.6 L234.9,352.6 L234.9,349.1 L235.9,349.1 L235.9,351.6 L236.9,351.6 L236.9,353.7 L237.9,353.7 L237.9,354.7 L238.9,354.7 L238.9,354.5 L239.9,354.5 L239.9,351.4 L240.9,351.4 L240.9,353.9 L241.9,353.9 L241.9,355.1 L242.9,355.1 L242.9,355.1 L243.9,355.1 L243.9,353.4 L244.9,353.4 L244.9,352.3 L245.9,352.3 L245.9,354.1 L246.9,354.1 L246.9,354.4 L247.9,354.4 L247.9,356.2 L248.9,356.2 L248.9,353.0 L249.9,353.0 L249.9,352.2 L250.9,352.2 L250.9,354.1 L251.9,354.1 L251.9,355.4 L252.9,355.4 L252.9,355.4 L253.9,355.4 L253.9,357.4 L254.9,357.4 L254.9,357.3 L255.9,357.3 L255.9,358.7 L256.9,358.7 L256.9,358.6 L257.9,358.6 L257.9,357.6 L258.9,357.6 L258.9,356.7 L259.9,356.7 L259.9,359.3 L260.9,359.3 L260.9,359.2 L261.9,359.2 L261.9,360.4 L262.9,360.4 L262.9,359.7 L263.9,359.7 L263.9,359.9 L264.9,359.9 L264.9,360.3 L265.9,360.3 L265.9,359.2 L266.9,359.2 L266.9,358.4 L267.9,358.4 L267.9,360.4 L268.9,360.4 L268.9,360.6 L269.9,360.6 L269.9,360.8 L270.9,360.8 L270.9,358.7 L271.9,358.7 L271.9,361.9 L272.9,361.9 L272.9,361.4 L273.9,361.4 L273.9,357.7 L274.9,357.7 L274.9,359.8 L275.9,359.8 L275.9,358.6 L276.9,358.6 L276.9,360.0 L277.9,360.0 L277.1,363.4 Z"/></clipPath>
<path d="M88.9,363.4 L88.9,355.6 L89.9,355.6 L89.9,356.3 L90.9,356.3 L90.9,357.9 L91.9,357.9 L91.9,358.0 L92.9,358.0 L92.9,358.0 L93.9,358.0 L93.9,358.6 L94.9,358.6 L94.9,353.4 L95.9,353.4 L95.9,356.8 L96.9,356.8 L96.9,351.5 L97.9,351.5 L97.9,354.1 L98.9,354.1 L98.9,355.0 L99.9,355.0 L99.9,346.4 L100.9,346.4 L100.9,349.8 L101.9,349.8 L101.9,346.9 L102.9,346.9 L102.9,345.2 L103.9,345.2 L103.9,341.2 L104.9,341.2 L104.9,334.3 L105.9,334.3 L105.9,327.3 L106.9,327.3 L106.9,330.7 L107.9,330.7 L107.9,330.1 L108.9,330.1 L108.9,333.8 L109.9,333.8 L109.9,319.5 L110.9,319.5 L110.9,327.9 L111.9,327.9 L111.9,318.1 L112.9,318.1 L112.9,307.0 L113.9,307.0 L113.9,303.5 L114.9,303.5 L114.9,324.9 L115.9,324.9 L115.9,310.2 L116.9,310.2 L116.9,309.8 L117.9,309.8 L117.9,323.6 L118.9,323.6 L118.9,304.0 L119.9,304.0 L119.9,322.2 L120.9,322.2 L120.9,312.5 L121.9,312.5 L121.9,329.6 L122.9,329.6 L122.9,318.0 L123.9,318.0 L123.9,332.9 L124.9,332.9 L124.9,329.3 L125.9,329.3 L125.9,322.3 L126.9,322.3 L126.9,328.4 L127.9,328.4 L127.9,337.5 L128.9,337.5 L128.9,338.7 L129.9,338.7 L129.9,340.4 L130.9,340.4 L130.9,328.9 L131.9,328.9 L131.9,339.2 L132.9,339.2 L132.9,335.0 L133.9,335.0 L133.9,333.0 L134.9,333.0 L134.9,344.0 L135.9,344.0 L135.9,342.5 L136.9,342.5 L136.9,343.0 L137.9,343.0 L137.9,345.4 L138.9,345.4 L138.9,345.7 L139.9,345.7 L139.9,348.6 L140.9,348.6 L140.9,340.0 L141.9,340.0 L141.9,348.0 L142.9,348.0 L142.9,350.4 L143.9,350.4 L143.9,348.6 L144.9,348.6 L144.9,346.7 L145.9,346.7 L145.9,349.2 L146.9,349.2 L146.9,346.3 L147.9,346.3 L147.9,352.7 L148.9,352.7 L148.9,346.2 L149.9,346.2 L149.9,350.9 L150.9,350.9 L150.9,348.2 L151.9,348.2 L151.9,347.4 L152.9,347.4 L152.9,355.0 L153.9,355.0 L153.9,345.1 L154.9,345.1 L154.9,352.4 L155.9,352.4 L155.9,351.9 L156.9,351.9 L156.9,351.6 L157.9,351.6 L157.9,350.6 L158.9,350.6 L158.9,348.4 L159.9,348.4 L159.9,345.2 L160.9,345.2 L160.9,346.0 L161.9,346.0 L161.9,352.3 L162.9,352.3 L162.9,351.1 L163.9,351.1 L163.9,344.3 L164.9,344.3 L164.9,349.2 L165.9,349.2 L165.9,349.4 L166.9,349.4 L166.9,351.8 L167.9,351.8 L167.9,351.1 L168.9,351.1 L168.9,345.5 L169.9,345.5 L169.9,353.4 L170.9,353.4 L170.9,349.1 L171.9,349.1 L171.9,349.4 L172.9,349.4 L172.9,347.0 L173.9,347.0 L173.9,349.2 L174.9,349.2 L174.9,349.5 L175.9,349.5 L175.9,350.6 L176.9,350.6 L176.9,349.8 L177.9,349.8 L177.9,349.1 L178.9,349.1 L178.9,345.0 L179.9,345.0 L179.9,350.4 L180.9,350.4 L180.9,350.2 L181.9,350.2 L181.9,352.4 L182.9,352.4 L182.9,350.9 L183.9,350.9 L183.9,348.9 L184.9,348.9 L184.9,352.4 L185.9,352.4 L185.9,347.1 L186.9,347.1 L186.9,351.6 L187.9,351.6 L187.9,347.5 L188.9,347.5 L188.9,347.6 L189.9,347.6 L189.9,351.6 L190.9,351.6 L190.9,345.0 L191.9,345.0 L191.9,354.8 L192.9,354.8 L192.9,346.5 L193.9,346.5 L193.9,346.2 L194.9,346.2 L194.9,350.3 L195.9,350.3 L195.9,350.6 L196.9,350.6 L196.9,349.9 L197.9,349.9 L197.9,353.3 L198.9,353.3 L198.9,351.5 L199.9,351.5 L199.9,354.5 L200.9,354.5 L200.9,345.1 L201.9,345.1 L201.9,353.4 L202.9,353.4 L202.9,348.6 L203.9,348.6 L203.9,349.5 L204.9,349.5 L204.9,345.4 L205.9,345.4 L205.9,351.9 L206.9,351.9 L206.9,351.4 L207.9,351.4 L207.9,348.8 L208.9,348.8 L208.9,347.5 L209.9,347.5 L209.9,347.5 L210.9,347.5 L210.9,346.5 L211.9,346.5 L211.9,348.5 L212.9,348.5 L212.9,350.4 L213.9,350.4 L213.9,347.1 L214.9,347.1 L214.9,353.6 L215.9,353.6 L215.9,344.6 L216.9,344.6 L216.9,352.3 L217.9,352.3 L217.9,354.1 L218.9,354.1 L218.9,351.5 L219.9,351.5 L219.9,347.3 L220.9,347.3 L220.9,351.1 L221.9,351.1 L221.9,348.2 L222.9,348.2 L222.9,348.8 L223.9,348.8 L223.9,347.4 L224.9,347.4 L224.9,352.1 L225.9,352.1 L225.9,347.8 L226.9,347.8 L226.9,351.0 L227.9,351.0 L227.9,348.9 L228.9,348.9 L228.9,353.9 L229.9,353.9 L229.9,352.6 L230.9,352.6 L230.9,352.8 L231.9,352.8 L231.9,353.9 L232.9,353.9 L232.9,354.2 L233.9,354.2 L233.9,352.6 L234.9,352.6 L234.9,349.1 L235.9,349.1 L235.9,351.6 L236.9,351.6 L236.9,353.7 L237.9,353.7 L237.9,354.7 L238.9,354.7 L238.9,354.5 L239.9,354.5 L239.9,351.4 L240.9,351.4 L240.9,353.9 L241.9,353.9 L241.9,355.1 L242.9,355.1 L242.9,355.1 L243.9,355.1 L243.9,353.4 L244.9,353.4 L244.9,352.3 L245.9,352.3 L245.9,354.1 L246.9,354.1 L246.9,354.4 L247.9,354.4 L247.9,356.2 L248.9,356.2 L248.9,353.0 L249.9,353.0 L249.9,352.2 L250.9,352.2 L250.9,354.1 L251.9,354.1 L251.9,355.4 L252.9,355.4 L252.9,355.4 L253.9,355.4 L253.9,357.4 L254.9,357.4 L254.9,357.3 L255.9,357.3 L255.9,358.7 L256.9,358.7 L256.9,358.6 L257.9,358.6 L257.9,357.6 L258.9,357.6 L258.9,356.7 L259.9,356.7 L259.9,359.3 L260.9,359.3 L260.9,359.2 L261.9,359.2 L261.9,360.4 L262.9,360.4 L262.9,359.7 L263.9,359.7 L263.9,359.9 L264.9,359.9 L264.9,360.3 L265.9,360.3 L265.9,359.2 L266.9,359.2 L266.9,358.4 L267.9,358.4 L267.9,360.4 L268.9,360.4 L268.9,360.6 L269.9,360.6 L269.9,360.8 L270.9,360.8 L270.9,358.7 L271.9,358.7 L271.9,361.9 L272.9,361.9 L272.9,361.4 L273.9,361.4 L273.9,357.7 L274.9,357.7 L274.9,359.8 L275.9,359.8 L275.9,358.6 L276.9,358.6 L276.9,360.0 L277.9,360.0 L277.1,363.4 Z" fill="url(#ht)" stroke="#111" stroke-width="0.7" stroke-linejoin="round"/>
<path d="M89.5,361.4 L90.2,360.4 L90.9,359.3 L91.6,358.1 L92.3,357.1 L93.0,356.9 L93.7,356.6 L94.4,355.8 L95.1,355.4 L95.8,353.8 L96.5,352.5 L97.2,350.7 L97.9,349.6 L98.6,347.3 L99.3,343.0 L100.0,338.6 L100.7,333.4 L101.4,328.8 L102.1,326.1 L102.8,317.7 L103.5,310.7 L104.2,304.4 L104.9,297.3 L105.6,290.3 L106.3,283.2 L107.0,277.2 L107.7,268.5 L108.4,262.3 L109.1,260.7 L109.8,252.3 L110.5,247.8 L111.2,240.1 L111.9,228.7 L112.6,223.3 L113.3,228.4 L114.0,237.6 L114.7,241.7 L115.4,255.8 L116.1,265.8 L116.8,271.4 L117.5,269.9 L118.2,272.1 L118.9,275.6 L119.6,282.3 L120.3,289.7 L121.0,293.1 L121.7,299.9 L122.4,306.8 L123.1,317.9 L123.8,326.5 L124.5,334.9 L125.2,340.1 L125.9,345.5 L126.6,349.8 L127.3,354.0 L128.0,355.0 L128.7,356.0 L129.4,356.9 L130.1,358.1 L130.8,358.8 L131.5,359.2 L132.2,359.5 L132.9,360.0 L133.6,360.6 L134.3,361.0 L135.0,361.4 L135.7,361.5 L136.4,361.5 L137.1,361.5 L137.8,361.7 L138.5,361.7 L139.2,361.7 L139.9,361.7 L140.6,361.8 L141.3,361.9 L142.0,361.9 L142.7,362.0 L143.4,362.0 L144.1,362.1 L144.8,362.1 L145.5,362.2 L146.2,362.2 L146.9,362.2 L147.6,362.2 L148.3,362.3 L149.0,362.3 L149.7,362.4 " fill="none" stroke="#2a2a2a" stroke-width="1.3" stroke-dasharray="1.2 1.3"/>
<path d="M89.5,361.4 L90.2,360.4 L90.9,359.3 L91.6,358.1 L92.3,357.1 L93.0,356.9 L93.7,356.6 L94.4,355.8 L95.1,355.4 L95.8,353.8 L96.5,352.5 L97.2,350.7 L97.9,349.6 L98.6,347.3 L99.3,343.0 L100.0,338.6 L100.7,333.4 L101.4,328.8 L102.1,326.1 L102.8,317.7 L103.5,310.7 L104.2,304.4 L104.9,297.3 L105.6,290.3 L106.3,283.2 L107.0,277.2 L107.7,268.5 L108.4,262.3 L109.1,260.7 L109.8,252.3 L110.5,247.8 L111.2,240.1 L111.9,228.7 L112.6,223.3 L113.3,228.4 L114.0,237.6 L114.7,241.7 L115.4,255.8 L116.1,265.8 L116.8,271.4 L117.5,269.9 L118.2,272.1 L118.9,275.6 L119.6,282.3 L120.3,289.7 L121.0,293.1 L121.7,299.9 L122.4,306.8 L123.1,317.9 L123.8,326.5 L124.5,334.9 L125.2,340.1 L125.9,345.5 L126.6,349.8 L127.3,354.0 L128.0,355.0 L128.7,356.0 L129.4,356.9 L130.1,358.1 L130.8,358.8 L131.5,359.2 L132.2,359.5 L132.9,360.0 L133.6,360.6 L134.3,361.0 L135.0,361.4 L135.7,361.5 L136.4,361.5 L137.1,361.5 L137.8,361.7 L138.5,361.7 L139.2,361.7 L139.9,361.7 L140.6,361.8 L141.3,361.9 L142.0,361.9 L142.7,362.0 L143.4,362.0 L144.1,362.1 L144.8,362.1 L145.5,362.2 L146.2,362.2 L146.9,362.2 L147.6,362.2 L148.3,362.3 L149.0,362.3 L149.7,362.4 " fill="none" stroke="#f4f4f4" stroke-width="0.9" clip-path="url(#cp2)"/>
<path d="M88.3,206.6 H277.3 V363.4" fill="none" stroke="#000" stroke-width="1.1"/>
<path d="M88.5,206.1 V364.0" fill="none" stroke="#000" stroke-width="2.1"/>
<path d="M87.8,363.4 H277.8" fill="none" stroke="#000" stroke-width="1.5"/>
<path d="M84.1,363.40 H88.3 M86.1,361.44 H88.3 M86.1,359.48 H88.3 M86.1,357.52 H88.3 M86.1,355.56 H88.3 M86.1,353.60 H88.3 M86.1,351.64 H88.3 M86.1,349.68 H88.3 M86.1,347.72 H88.3 M86.1,345.76 H88.3 M84.1,343.80 H88.3 M86.1,341.84 H88.3 M86.1,339.88 H88.3 M86.1,337.92 H88.3 M86.1,335.96 H88.3 M86.1,334.00 H88.3 M86.1,332.04 H88.3 M86.1,330.08 H88.3 M86.1,328.12 H88.3 M86.1,326.16 H88.3 M84.1,324.20 H88.3 M86.1,322.24 H88.3 M86.1,320.28 H88.3 M86.1,318.32 H88.3 M86.1,316.36 H88.3 M86.1,314.40 H88.3 M86.1,312.44 H88.3 M86.1,310.48 H88.3 M86.1,308.52 H88.3 M86.1,306.56 H88.3 M84.1,304.60 H88.3 M86.1,302.64 H88.3 M86.1,300.68 H88.3 M86.1,298.72 H88.3 M86.1,296.76 H88.3 M86.1,294.80 H88.3 M86.1,292.84 H88.3 M86.1,290.88 H88.3 M86.1,288.92 H88.3 M86.1,286.96 H88.3 M84.1,285.00 H88.3 M86.1,283.04 H88.3 M86.1,281.08 H88.3 M86.1,279.12 H88.3 M86.1,277.16 H88.3 M86.1,275.20 H88.3 M86.1,273.24 H88.3 M86.1,271.28 H88.3 M86.1,269.32 H88.3 M86.1,267.36 H88.3 M84.1,265.40 H88.3 M86.1,263.44 H88.3 M86.1,261.48 H88.3 M86.1,259.52 H88.3 M86.1,257.56 H88.3 M86.1,255.60 H88.3 M86.1,253.64 H88.3 M86.1,251.68 H88.3 M86.1,249.72 H88.3 M86.1,247.76 H88.3 M84.1,245.80 H88.3 M86.1,243.84 H88.3 M86.1,241.88 H88.3 M86.1,239.92 H88.3 M86.1,237.96 H88.3 M86.1,236.00 H88.3 M86.1,234.04 H88.3 M86.1,232.08 H88.3 M86.1,230.12 H88.3 M86.1,228.16 H88.3 M84.1,226.20 H88.3 M86.1,224.24 H88.3 M86.1,222.28 H88.3 M86.1,220.32 H88.3 M86.1,218.36 H88.3 M86.1,216.40 H88.3 M86.1,214.44 H88.3 M86.1,212.48 H88.3 M86.1,210.52 H88.3 M86.1,208.56 H88.3 M84.1,206.60 H88.3 " stroke="#000" stroke-width="1.05" fill="none"/>
<text transform="translate(82.3,363.4) rotate(-90)" font-family="'Liberation Sans', sans-serif" font-weight="bold" font-size="8.0" text-anchor="middle" textLength="4.0" lengthAdjust="spacingAndGlyphs" fill="#111" stroke="#111" stroke-width="0.3">0</text>
<text transform="translate(82.3,343.8) rotate(-90)" font-family="'Liberation Sans', sans-serif" font-weight="bold" font-size="8.0" text-anchor="middle" textLength="8.1" lengthAdjust="spacingAndGlyphs" fill="#111" stroke="#111" stroke-width="0.3">10</text>
<text transform="translate(82.3,324.2) rotate(-90)" font-family="'Liberation Sans', sans-serif" font-weight="bold" font-size="8.0" text-anchor="middle" textLength="8.1" lengthAdjust="spacingAndGlyphs" fill="#111" stroke="#111" stroke-width="0.3">20</text>
<text transform="translate(82.3,304.6) rotate(-90)" font-family="'Liberation Sans', sans-serif" font-weight="bold" font-size="8.0" text-anchor="middle" textLength="8.1" lengthAdjust="spacingAndGlyphs" fill="#111" stroke="#111" stroke-width="0.3">30</text>
<text transform="translate(82.3,285.0) rotate(-90)" font-family="'Liberation Sans', sans-serif" font-weight="bold" font-size="8.0" text-anchor="middle" textLength="8.1" lengthAdjust="spacingAndGlyphs" fill="#111" stroke="#111" stroke-width="0.3">40</text>
<text transform="translate(82.3,265.4) rotate(-90)" font-family="'Liberation Sans', sans-serif" font-weight="bold" font-size="8.0" text-anchor="middle" textLength="8.1" lengthAdjust="spacingAndGlyphs" fill="#111" stroke="#111" stroke-width="0.3">50</text>
<text transform="translate(82.3,245.8) rotate(-90)" font-family="'Liberation Sans', sans-serif" font-weight="bold" font-size="8.0" text-anchor="middle" textLength="8.1" lengthAdjust="spacingAndGlyphs" fill="#111" stroke="#111" stroke-width="0.3">60</text>
<text transform="translate(82.3,226.2) rotate(-90)" font-family="'Liberation Sans', sans-serif" font-weight="bold" font-size="8.0" text-anchor="middle" textLength="8.1" lengthAdjust="spacingAndGlyphs" fill="#111" stroke="#111" stroke-width="0.3">70</text>
<text transform="translate(82.3,206.6) rotate(-90)" font-family="'Liberation Sans', sans-serif" font-weight="bold" font-size="8.0" text-anchor="middle" textLength="8.1" lengthAdjust="spacingAndGlyphs" fill="#111" stroke="#111" stroke-width="0.3">80</text>
<path d="M88.3,363.4 v4.0 M102.5,363.4 v2.4 M110.8,363.4 v2.4 M116.7,363.4 v2.4 M121.3,363.4 v2.4 M125.1,363.4 v2.4 M128.2,363.4 v2.4 M131.0,363.4 v2.4 M133.4,363.4 v2.4 M135.6,363.4 v4.0 M149.8,363.4 v2.4 M158.1,363.4 v2.4 M164.0,363.4 v2.4 M168.6,363.4 v2.4 M172.3,363.4 v2.4 M175.5,363.4 v2.4 M178.2,363.4 v2.4 M180.6,363.4 v2.4 M182.8,363.4 v4.0 M197.0,363.4 v2.4 M205.3,363.4 v2.4 M211.2,363.4 v2.4 M215.8,363.4 v2.4 M219.6,363.4 v2.4 M222.7,363.4 v2.4 M225.5,363.4 v2.4 M227.9,363.4 v2.4 M230.1,363.4 v4.0 M244.3,363.4 v2.4 M252.6,363.4 v2.4 M258.5,363.4 v2.4 M263.1,363.4 v2.4 M266.8,363.4 v2.4 M270.0,363.4 v2.4 M272.7,363.4 v2.4 M275.1,363.4 v2.4 M277.3,363.4 v4 " stroke="#000" stroke-width="0.8" fill="none"/>
<text x="83.3" y="376.7" font-family="'Liberation Sans', sans-serif" font-size="9.4" textLength="7.9" lengthAdjust="spacingAndGlyphs" fill="#111" stroke="#111" stroke-width="0.45">10</text>
<text x="91.2" y="373.0" font-family="'Liberation Sans', sans-serif" font-size="8.4" textLength="4.3" lengthAdjust="spacingAndGlyphs" fill="#111" stroke="#111" stroke-width="0.4">0</text>
<text x="130.6" y="376.7" font-family="'Liberation Sans', sans-serif" font-size="9.4" textLength="7.9" lengthAdjust="spacingAndGlyphs" fill="#111" stroke="#111" stroke-width="0.45">10</text>
<text x="138.5" y="373.0" font-family="'Liberation Sans', sans-serif" font-size="8.4" textLength="4.3" lengthAdjust="spacingAndGlyphs" fill="#111" stroke="#111" stroke-width="0.4">1</text>
<text x="177.8" y="376.7" font-family="'Liberation Sans', sans-serif" font-size="9.4" textLength="7.9" lengthAdjust="spacingAndGlyphs" fill="#111" stroke="#111" stroke-width="0.45">10</text>
<text x="185.7" y="373.0" font-family="'Liberation Sans', sans-serif" font-size="8.4" textLength="4.3" lengthAdjust="spacingAndGlyphs" fill="#111" stroke="#111" stroke-width="0.4">2</text>
<text x="225.1" y="376.7" font-family="'Liberation Sans', sans-serif" font-size="9.4" textLength="7.9" lengthAdjust="spacingAndGlyphs" fill="#111" stroke="#111" stroke-width="0.45">10</text>
<text x="233.0" y="373.0" font-family="'Liberation Sans', sans-serif" font-size="8.4" textLength="4.3" lengthAdjust="spacingAndGlyphs" fill="#111" stroke="#111" stroke-width="0.4">3</text>
<text x="270.3" y="376.7" font-family="'Liberation Sans', sans-serif" font-size="9.4" textLength="7.9" lengthAdjust="spacingAndGlyphs" fill="#111" stroke="#111" stroke-width="0.45">10</text>
<text x="278.2" y="373.0" font-family="'Liberation Sans', sans-serif" font-size="8.4" textLength="4.3" lengthAdjust="spacingAndGlyphs" fill="#111" stroke="#111" stroke-width="0.4">4</text>
<text x="272.3" y="220.0" font-family="'Liberation Serif', serif" font-weight="bold" font-size="12.15" text-anchor="end" fill="#000">hi SB203580</text>
<clipPath id="cp3"><path d="M323.6,363.5 L323.6,360.1 L324.6,360.1 L324.6,360.2 L325.6,360.2 L325.6,360.0 L326.6,360.0 L326.6,360.1 L327.6,360.1 L327.6,358.5 L328.6,358.5 L328.6,359.8 L329.6,359.8 L329.6,360.7 L330.6,360.7 L330.6,356.3 L331.6,356.3 L331.6,356.3 L332.6,356.3 L332.6,359.9 L333.6,359.9 L333.6,356.1 L334.6,356.1 L334.6,349.1 L335.6,349.1 L335.6,348.5 L336.6,348.5 L336.6,345.5 L337.6,345.5 L337.6,347.8 L338.6,347.8 L338.6,335.5 L339.6,335.5 L339.6,330.4 L340.6,330.4 L340.6,323.9 L341.6,323.9 L341.6,313.2 L342.6,313.2 L342.6,319.4 L343.6,319.4 L343.6,301.9 L344.6,301.9 L344.6,285.0 L345.6,285.0 L345.6,304.1 L346.6,304.1 L346.6,292.9 L347.6,292.9 L347.6,289.2 L348.6,289.2 L348.6,298.2 L349.6,298.2 L349.6,281.1 L350.6,281.1 L350.6,268.1 L351.6,268.1 L351.6,279.4 L352.6,279.4 L352.6,277.5 L353.6,277.5 L353.6,276.2 L354.6,276.2 L354.6,302.1 L355.6,302.1 L355.6,306.5 L356.6,306.5 L356.6,300.6 L357.6,300.6 L357.6,320.5 L358.6,320.5 L358.6,318.1 L359.6,318.1 L359.6,321.0 L360.6,321.0 L360.6,323.6 L361.6,323.6 L361.6,324.4 L362.6,324.4 L362.6,324.9 L363.6,324.9 L363.6,342.0 L364.6,342.0 L364.6,342.7 L365.6,342.7 L365.6,345.7 L366.6,345.7 L366.6,347.9 L367.6,347.9 L367.6,351.1 L368.6,351.1 L368.6,350.5 L369.6,350.5 L369.6,351.2 L370.6,351.2 L370.6,349.1 L371.6,349.1 L371.6,352.1 L372.6,352.1 L372.6,348.8 L373.6,348.8 L373.6,355.7 L374.6,355.7 L374.6,350.0 L375.6,350.0 L375.6,354.7 L376.6,354.7 L376.6,353.9 L377.6,353.9 L377.6,354.9 L378.6,354.9 L378.6,353.6 L379.6,353.6 L379.6,355.0 L380.6,355.0 L380.6,355.1 L381.6,355.1 L381.6,352.5 L382.6,352.5 L382.6,357.1 L383.6,357.1 L383.6,355.4 L384.6,355.4 L384.6,354.8 L385.6,354.8 L385.6,352.5 L386.6,352.5 L386.6,355.6 L387.6,355.6 L387.6,356.2 L388.6,356.2 L388.6,355.9 L389.6,355.9 L389.6,352.5 L390.6,352.5 L390.6,356.8 L391.6,356.8 L391.6,352.1 L392.6,352.1 L392.6,355.6 L393.6,355.6 L393.6,356.9 L394.6,356.9 L394.6,356.6 L395.6,356.6 L395.6,352.0 L396.6,352.0 L396.6,354.8 L397.6,354.8 L397.6,356.8 L398.6,356.8 L398.6,355.4 L399.6,355.4 L399.6,356.9 L400.6,356.9 L400.6,356.8 L401.6,356.8 L401.6,353.7 L402.6,353.7 L402.6,356.5 L403.6,356.5 L403.6,351.8 L404.6,351.8 L404.6,358.1 L405.6,358.1 L405.6,353.4 L406.6,353.4 L406.6,356.9 L407.6,356.9 L407.6,357.6 L408.6,357.6 L408.6,356.1 L409.6,356.1 L409.6,353.8 L410.6,353.8 L410.6,357.4 L411.6,357.4 L411.6,357.4 L412.6,357.4 L412.6,356.3 L413.6,356.3 L413.6,354.1 L414.6,354.1 L414.6,355.4 L415.6,355.4 L415.6,356.9 L416.6,356.9 L416.6,357.6 L417.6,357.6 L417.6,357.5 L418.6,357.5 L418.6,352.0 L419.6,352.0 L419.6,353.0 L420.6,353.0 L420.6,357.3 L421.6,357.3 L421.6,356.8 L422.6,356.8 L422.6,353.9 L423.6,353.9 L423.6,358.8 L424.6,358.8 L424.6,358.2 L425.6,358.2 L425.6,358.0 L426.6,358.0 L426.6,358.0 L427.6,358.0 L427.6,356.7 L428.6,356.7 L428.6,355.5 L429.6,355.5 L429.6,358.5 L430.6,358.5 L430.6,358.4 L431.6,358.4 L431.6,358.0 L432.6,358.0 L432.6,354.8 L433.6,354.8 L433.6,357.7 L434.6,357.7 L434.6,359.0 L435.6,359.0 L435.6,358.2 L436.6,358.2 L436.6,357.9 L437.6,357.9 L437.6,359.3 L438.6,359.3 L438.6,356.3 L439.6,356.3 L439.6,358.7 L440.6,358.7 L440.6,355.7 L441.6,355.7 L441.6,354.7 L442.6,354.7 L442.6,357.9 L443.6,357.9 L443.6,357.6 L444.6,357.6 L444.6,355.1 L445.6,355.1 L445.6,356.1 L446.6,356.1 L446.6,358.8 L447.6,358.8 L447.6,357.8 L448.6,357.8 L448.6,355.1 L449.6,355.1 L449.6,357.4 L450.6,357.4 L450.6,355.8 L451.6,355.8 L451.6,356.9 L452.6,356.9 L452.6,358.3 L453.6,358.3 L453.6,359.0 L454.6,359.0 L454.6,356.2 L455.6,356.2 L455.6,359.3 L456.6,359.3 L456.6,355.3 L457.6,355.3 L457.6,358.4 L458.6,358.4 L458.6,357.7 L459.6,357.7 L459.6,355.8 L460.6,355.8 L460.6,357.7 L461.6,357.7 L461.6,356.3 L462.6,356.3 L462.6,359.1 L463.6,359.1 L463.6,359.5 L464.6,359.5 L464.6,358.5 L465.6,358.5 L465.6,359.7 L466.6,359.7 L466.6,357.2 L467.6,357.2 L467.6,359.2 L468.6,359.2 L468.6,360.7 L469.6,360.7 L469.6,359.3 L470.6,359.3 L470.6,358.3 L471.6,358.3 L471.6,360.4 L472.6,360.4 L472.6,360.2 L473.6,360.2 L473.6,357.5 L474.6,357.5 L474.6,361.0 L475.6,361.0 L475.6,360.7 L476.6,360.7 L476.6,361.0 L477.6,361.0 L477.6,360.6 L478.6,360.6 L478.6,360.3 L479.6,360.3 L479.6,359.6 L480.6,359.6 L480.6,361.6 L481.6,361.6 L481.6,360.5 L482.6,360.5 L482.6,361.5 L483.6,361.5 L483.6,361.4 L484.6,361.4 L484.6,360.9 L485.6,360.9 L485.6,360.9 L486.6,360.9 L486.6,360.1 L487.6,360.1 L487.6,358.0 L488.6,358.0 L488.6,360.9 L489.6,360.9 L489.6,359.8 L490.6,359.8 L490.6,358.5 L491.6,358.5 L491.6,359.5 L492.6,359.5 L492.6,358.5 L493.6,358.5 L493.6,361.0 L494.6,361.0 L494.6,361.6 L495.6,361.6 L495.6,361.0 L496.6,361.0 L496.6,361.6 L497.6,361.6 L497.6,358.7 L498.6,358.7 L498.6,361.3 L499.6,361.3 L499.6,358.8 L500.6,358.8 L500.6,361.4 L501.6,361.4 L501.6,358.7 L502.6,358.7 L502.6,360.4 L503.6,360.4 L503.6,358.6 L504.6,358.6 L504.6,360.2 L505.6,360.2 L505.6,359.2 L506.6,359.2 L506.6,360.1 L507.6,360.1 L507.6,359.4 L508.6,359.4 L508.6,357.0 L509.6,357.0 L509.6,359.9 L510.6,359.9 L510.5,363.5 Z"/></clipPath>
<path d="M323.6,363.5 L323.6,360.1 L324.6,360.1 L324.6,360.2 L325.6,360.2 L325.6,360.0 L326.6,360.0 L326.6,360.1 L327.6,360.1 L327.6,358.5 L328.6,358.5 L328.6,359.8 L329.6,359.8 L329.6,360.7 L330.6,360.7 L330.6,356.3 L331.6,356.3 L331.6,356.3 L332.6,356.3 L332.6,359.9 L333.6,359.9 L333.6,356.1 L334.6,356.1 L334.6,349.1 L335.6,349.1 L335.6,348.5 L336.6,348.5 L336.6,345.5 L337.6,345.5 L337.6,347.8 L338.6,347.8 L338.6,335.5 L339.6,335.5 L339.6,330.4 L340.6,330.4 L340.6,323.9 L341.6,323.9 L341.6,313.2 L342.6,313.2 L342.6,319.4 L343.6,319.4 L343.6,301.9 L344.6,301.9 L344.6,285.0 L345.6,285.0 L345.6,304.1 L346.6,304.1 L346.6,292.9 L347.6,292.9 L347.6,289.2 L348.6,289.2 L348.6,298.2 L349.6,298.2 L349.6,281.1 L350.6,281.1 L350.6,268.1 L351.6,268.1 L351.6,279.4 L352.6,279.4 L352.6,277.5 L353.6,277.5 L353.6,276.2 L354.6,276.2 L354.6,302.1 L355.6,302.1 L355.6,306.5 L356.6,306.5 L356.6,300.6 L357.6,300.6 L357.6,320.5 L358.6,320.5 L358.6,318.1 L359.6,318.1 L359.6,321.0 L360.6,321.0 L360.6,323.6 L361.6,323.6 L361.6,324.4 L362.6,324.4 L362.6,324.9 L363.6,324.9 L363.6,342.0 L364.6,342.0 L364.6,342.7 L365.6,342.7 L365.6,345.7 L366.6,345.7 L366.6,347.9 L367.6,347.9 L367.6,351.1 L368.6,351.1 L368.6,350.5 L369.6,350.5 L369.6,351.2 L370.6,351.2 L370.6,349.1 L371.6,349.1 L371.6,352.1 L372.6,352.1 L372.6,348.8 L373.6,348.8 L373.6,355.7 L374.6,355.7 L374.6,350.0 L375.6,350.0 L375.6,354.7 L376.6,354.7 L376.6,353.9 L377.6,353.9 L377.6,354.9 L378.6,354.9 L378.6,353.6 L379.6,353.6 L379.6,355.0 L380.6,355.0 L380.6,355.1 L381.6,355.1 L381.6,352.5 L382.6,352.5 L382.6,357.1 L383.6,357.1 L383.6,355.4 L384.6,355.4 L384.6,354.8 L385.6,354.8 L385.6,352.5 L386.6,352.5 L386.6,355.6 L387.6,355.6 L387.6,356.2 L388.6,356.2 L388.6,355.9 L389.6,355.9 L389.6,352.5 L390.6,352.5 L390.6,356.8 L391.6,356.8 L391.6,352.1 L392.6,352.1 L392.6,355.6 L393.6,355.6 L393.6,356.9 L394.6,356.9 L394.6,356.6 L395.6,356.6 L395.6,352.0 L396.6,352.0 L396.6,354.8 L397.6,354.8 L397.6,356.8 L398.6,356.8 L398.6,355.4 L399.6,355.4 L399.6,356.9 L400.6,356.9 L400.6,356.8 L401.6,356.8 L401.6,353.7 L402.6,353.7 L402.6,356.5 L403.6,356.5 L403.6,351.8 L404.6,351.8 L404.6,358.1 L405.6,358.1 L405.6,353.4 L406.6,353.4 L406.6,356.9 L407.6,356.9 L407.6,357.6 L408.6,357.6 L408.6,356.1 L409.6,356.1 L409.6,353.8 L410.6,353.8 L410.6,357.4 L411.6,357.4 L411.6,357.4 L412.6,357.4 L412.6,356.3 L413.6,356.3 L413.6,354.1 L414.6,354.1 L414.6,355.4 L415.6,355.4 L415.6,356.9 L416.6,356.9 L416.6,357.6 L417.6,357.6 L417.6,357.5 L418.6,357.5 L418.6,352.0 L419.6,352.0 L419.6,353.0 L420.6,353.0 L420.6,357.3 L421.6,357.3 L421.6,356.8 L422.6,356.8 L422.6,353.9 L423.6,353.9 L423.6,358.8 L424.6,358.8 L424.6,358.2 L425.6,358.2 L425.6,358.0 L426.6,358.0 L426.6,358.0 L427.6,358.0 L427.6,356.7 L428.6,356.7 L428.6,355.5 L429.6,355.5 L429.6,358.5 L430.6,358.5 L430.6,358.4 L431.6,358.4 L431.6,358.0 L432.6,358.0 L432.6,354.8 L433.6,354.8 L433.6,357.7 L434.6,357.7 L434.6,359.0 L435.6,359.0 L435.6,358.2 L436.6,358.2 L436.6,357.9 L437.6,357.9 L437.6,359.3 L438.6,359.3 L438.6,356.3 L439.6,356.3 L439.6,358.7 L440.6,358.7 L440.6,355.7 L441.6,355.7 L441.6,354.7 L442.6,354.7 L442.6,357.9 L443.6,357.9 L443.6,357.6 L444.6,357.6 L444.6,355.1 L445.6,355.1 L445.6,356.1 L446.6,356.1 L446.6,358.8 L447.6,358.8 L447.6,357.8 L448.6,357.8 L448.6,355.1 L449.6,355.1 L449.6,357.4 L450.6,357.4 L450.6,355.8 L451.6,355.8 L451.6,356.9 L452.6,356.9 L452.6,358.3 L453.6,358.3 L453.6,359.0 L454.6,359.0 L454.6,356.2 L455.6,356.2 L455.6,359.3 L456.6,359.3 L456.6,355.3 L457.6,355.3 L457.6,358.4 L458.6,358.4 L458.6,357.7 L459.6,357.7 L459.6,355.8 L460.6,355.8 L460.6,357.7 L461.6,357.7 L461.6,356.3 L462.6,356.3 L462.6,359.1 L463.6,359.1 L463.6,359.5 L464.6,359.5 L464.6,358.5 L465.6,358.5 L465.6,359.7 L466.6,359.7 L466.6,357.2 L467.6,357.2 L467.6,359.2 L468.6,359.2 L468.6,360.7 L469.6,360.7 L469.6,359.3 L470.6,359.3 L470.6,358.3 L471.6,358.3 L471.6,360.4 L472.6,360.4 L472.6,360.2 L473.6,360.2 L473.6,357.5 L474.6,357.5 L474.6,361.0 L475.6,361.0 L475.6,360.7 L476.6,360.7 L476.6,361.0 L477.6,361.0 L477.6,360.6 L478.6,360.6 L478.6,360.3 L479.6,360.3 L479.6,359.6 L480.6,359.6 L480.6,361.6 L481.6,361.6 L481.6,360.5 L482.6,360.5 L482.6,361.5 L483.6,361.5 L483.6,361.4 L484.6,361.4 L484.6,360.9 L485.6,360.9 L485.6,360.9 L486.6,360.9 L486.6,360.1 L487.6,360.1 L487.6,358.0 L488.6,358.0 L488.6,360.9 L489.6,360.9 L489.6,359.8 L490.6,359.8 L490.6,358.5 L491.6,358.5 L491.6,359.5 L492.6,359.5 L492.6,358.5 L493.6,358.5 L493.6,361.0 L494.6,361.0 L494.6,361.6 L495.6,361.6 L495.6,361.0 L496.6,361.0 L496.6,361.6 L497.6,361.6 L497.6,358.7 L498.6,358.7 L498.6,361.3 L499.6,361.3 L499.6,358.8 L500.6,358.8 L500.6,361.4 L501.6,361.4 L501.6,358.7 L502.6,358.7 L502.6,360.4 L503.6,360.4 L503.6,358.6 L504.6,358.6 L504.6,360.2 L505.6,360.2 L505.6,359.2 L506.6,359.2 L506.6,360.1 L507.6,360.1 L507.6,359.4 L508.6,359.4 L508.6,357.0 L509.6,357.0 L509.6,359.9 L510.6,359.9 L510.5,363.5 Z" fill="url(#ht)" stroke="#111" stroke-width="0.7" stroke-linejoin="round"/>
<path d="M324.0,362.4 L324.7,362.2 L325.4,362.0 L326.1,362.0 L326.8,361.8 L327.5,361.6 L328.2,360.6 L328.9,359.1 L329.6,357.9 L330.3,356.1 L331.0,354.7 L331.7,353.2 L332.4,349.3 L333.1,345.9 L333.8,342.3 L334.5,338.5 L335.2,334.5 L335.9,327.8 L336.6,323.6 L337.3,314.3 L338.0,310.3 L338.7,302.0 L339.4,295.1 L340.1,289.2 L340.8,280.6 L341.5,276.8 L342.2,267.5 L342.9,259.9 L343.6,251.1 L344.3,249.0 L345.0,248.0 L345.7,250.4 L346.4,256.9 L347.1,258.7 L347.8,258.0 L348.5,252.0 L349.2,247.2 L349.9,241.1 L350.6,237.9 L351.3,234.4 L352.0,244.4 L352.7,249.5 L353.4,258.8 L354.1,265.6 L354.8,270.7 L355.5,278.8 L356.2,287.5 L356.9,293.2 L357.6,300.5 L358.3,303.9 L359.0,312.9 L359.7,319.2 L360.4,322.8 L361.1,328.7 L361.8,333.1 L362.5,338.0 L363.2,341.6 L363.9,345.1 L364.6,348.0 L365.3,351.0 L366.0,352.8 L366.7,354.5 L367.4,356.0 L368.1,357.6 L368.8,358.1 L369.5,358.6 L370.2,358.7 L370.9,359.1 L371.6,359.5 L372.3,359.7 L373.0,359.9 L373.7,360.2 L374.4,360.4 L375.1,360.6 L375.8,360.9 L376.5,361.1 L377.2,361.4 L377.9,361.5 L378.6,361.8 L379.3,362.0 " fill="none" stroke="#2a2a2a" stroke-width="1.3" stroke-dasharray="1.2 1.3"/>
<path d="M324.0,362.4 L324.7,362.2 L325.4,362.0 L326.1,362.0 L326.8,361.8 L327.5,361.6 L328.2,360.6 L328.9,359.1 L329.6,357.9 L330.3,356.1 L331.0,354.7 L331.7,353.2 L332.4,349.3 L333.1,345.9 L333.8,342.3 L334.5,338.5 L335.2,334.5 L335.9,327.8 L336.6,323.6 L337.3,314.3 L338.0,310.3 L338.7,302.0 L339.4,295.1 L340.1,289.2 L340.8,280.6 L341.5,276.8 L342.2,267.5 L342.9,259.9 L343.6,251.1 L344.3,249.0 L345.0,248.0 L345.7,250.4 L346.4,256.9 L347.1,258.7 L347.8,258.0 L348.5,252.0 L349.2,247.2 L349.9,241.1 L350.6,237.9 L351.3,234.4 L352.0,244.4 L352.7,249.5 L353.4,258.8 L354.1,265.6 L354.8,270.7 L355.5,278.8 L356.2,287.5 L356.9,293.2 L357.6,300.5 L358.3,303.9 L359.0,312.9 L359.7,319.2 L360.4,322.8 L361.1,328.7 L361.8,333.1 L362.5,338.0 L363.2,341.6 L363.9,345.1 L364.6,348.0 L365.3,351.0 L366.0,352.8 L366.7,354.5 L367.4,356.0 L368.1,357.6 L368.8,358.1 L369.5,358.6 L370.2,358.7 L370.9,359.1 L371.6,359.5 L372.3,359.7 L373.0,359.9 L373.7,360.2 L374.4,360.4 L375.1,360.6 L375.8,360.9 L376.5,361.1 L377.2,361.4 L377.9,361.5 L378.6,361.8 L379.3,362.0 " fill="none" stroke="#f4f4f4" stroke-width="0.9" clip-path="url(#cp3)"/>
<path d="M323.0,207.3 H510.7 V363.5" fill="none" stroke="#000" stroke-width="1.1"/>
<path d="M323.2,206.8 V364.1" fill="none" stroke="#000" stroke-width="2.1"/>
<path d="M322.5,363.5 H511.2" fill="none" stroke="#000" stroke-width="1.5"/>
<path d="M318.8,363.50 H323.0 M320.8,361.55 H323.0 M320.8,359.60 H323.0 M320.8,357.64 H323.0 M320.8,355.69 H323.0 M320.8,353.74 H323.0 M320.8,351.79 H323.0 M320.8,349.83 H323.0 M320.8,347.88 H323.0 M320.8,345.93 H323.0 M318.8,343.98 H323.0 M320.8,342.02 H323.0 M320.8,340.07 H323.0 M320.8,338.12 H323.0 M320.8,336.17 H323.0 M320.8,334.21 H323.0 M320.8,332.26 H323.0 M320.8,330.31 H323.0 M320.8,328.36 H323.0 M320.8,326.40 H323.0 M318.8,324.45 H323.0 M320.8,322.50 H323.0 M320.8,320.55 H323.0 M320.8,318.59 H323.0 M320.8,316.64 H323.0 M320.8,314.69 H323.0 M320.8,312.74 H323.0 M320.8,310.78 H323.0 M320.8,308.83 H323.0 M320.8,306.88 H323.0 M318.8,304.93 H323.0 M320.8,302.97 H323.0 M320.8,301.02 H323.0 M320.8,299.07 H323.0 M320.8,297.12 H323.0 M320.8,295.16 H323.0 M320.8,293.21 H323.0 M320.8,291.26 H323.0 M320.8,289.31 H323.0 M320.8,287.35 H323.0 M318.8,285.40 H323.0 M320.8,283.45 H323.0 M320.8,281.50 H323.0 M320.8,279.54 H323.0 M320.8,277.59 H323.0 M320.8,275.64 H323.0 M320.8,273.69 H323.0 M320.8,271.73 H323.0 M320.8,269.78 H323.0 M320.8,267.83 H323.0 M318.8,265.88 H323.0 M320.8,263.92 H323.0 M320.8,261.97 H323.0 M320.8,260.02 H323.0 M320.8,258.06 H323.0 M320.8,256.11 H323.0 M320.8,254.16 H323.0 M320.8,252.21 H323.0 M320.8,250.25 H323.0 M320.8,248.30 H323.0 M318.8,246.35 H323.0 M320.8,244.40 H323.0 M320.8,242.44 H323.0 M320.8,240.49 H323.0 M320.8,238.54 H323.0 M320.8,236.59 H323.0 M320.8,234.64 H323.0 M320.8,232.68 H323.0 M320.8,230.73 H323.0 M320.8,228.78 H323.0 M318.8,226.83 H323.0 M320.8,224.87 H323.0 M320.8,222.92 H323.0 M320.8,220.97 H323.0 M320.8,219.02 H323.0 M320.8,217.06 H323.0 M320.8,215.11 H323.0 M320.8,213.16 H323.0 M320.8,211.21 H323.0 M320.8,209.25 H323.0 M318.8,207.30 H323.0 " stroke="#000" stroke-width="1.05" fill="none"/>
<text transform="translate(317.0,363.5) rotate(-90)" font-family="'Liberation Sans', sans-serif" font-weight="bold" font-size="8.0" text-anchor="middle" textLength="4.0" lengthAdjust="spacingAndGlyphs" fill="#111" stroke="#111" stroke-width="0.3">0</text>
<text transform="translate(317.0,344.0) rotate(-90)" font-family="'Liberation Sans', sans-serif" font-weight="bold" font-size="8.0" text-anchor="middle" textLength="8.1" lengthAdjust="spacingAndGlyphs" fill="#111" stroke="#111" stroke-width="0.3">10</text>
<text transform="translate(317.0,324.4) rotate(-90)" font-family="'Liberation Sans', sans-serif" font-weight="bold" font-size="8.0" text-anchor="middle" textLength="8.1" lengthAdjust="spacingAndGlyphs" fill="#111" stroke="#111" stroke-width="0.3">20</text>
<text transform="translate(317.0,304.9) rotate(-90)" font-family="'Liberation Sans', sans-serif" font-weight="bold" font-size="8.0" text-anchor="middle" textLength="8.1" lengthAdjust="spacingAndGlyphs" fill="#111" stroke="#111" stroke-width="0.3">30</text>
<text transform="translate(317.0,285.4) rotate(-90)" font-family="'Liberation Sans', sans-serif" font-weight="bold" font-size="8.0" text-anchor="middle" textLength="8.1" lengthAdjust="spacingAndGlyphs" fill="#111" stroke="#111" stroke-width="0.3">40</text>
<text transform="translate(317.0,265.9) rotate(-90)" font-family="'Liberation Sans', sans-serif" font-weight="bold" font-size="8.0" text-anchor="middle" textLength="8.1" lengthAdjust="spacingAndGlyphs" fill="#111" stroke="#111" stroke-width="0.3">50</text>
<text transform="translate(317.0,246.4) rotate(-90)" font-family="'Liberation Sans', sans-serif" font-weight="bold" font-size="8.0" text-anchor="middle" textLength="8.1" lengthAdjust="spacingAndGlyphs" fill="#111" stroke="#111" stroke-width="0.3">60</text>
<text transform="translate(317.0,226.8) rotate(-90)" font-family="'Liberation Sans', sans-serif" font-weight="bold" font-size="8.0" text-anchor="middle" textLength="8.1" lengthAdjust="spacingAndGlyphs" fill="#111" stroke="#111" stroke-width="0.3">70</text>
<text transform="translate(317.0,207.3) rotate(-90)" font-family="'Liberation Sans', sans-serif" font-weight="bold" font-size="8.0" text-anchor="middle" textLength="8.1" lengthAdjust="spacingAndGlyphs" fill="#111" stroke="#111" stroke-width="0.3">80</text>
<path d="M323.0,363.5 v4.0 M337.1,363.5 v2.4 M345.4,363.5 v2.4 M351.3,363.5 v2.4 M355.8,363.5 v2.4 M359.5,363.5 v2.4 M362.7,363.5 v2.4 M365.4,363.5 v2.4 M367.8,363.5 v2.4 M369.9,363.5 v4.0 M384.1,363.5 v2.4 M392.3,363.5 v2.4 M398.2,363.5 v2.4 M402.7,363.5 v2.4 M406.4,363.5 v2.4 M409.6,363.5 v2.4 M412.3,363.5 v2.4 M414.7,363.5 v2.4 M416.9,363.5 v4.0 M431.0,363.5 v2.4 M439.2,363.5 v2.4 M445.1,363.5 v2.4 M449.6,363.5 v2.4 M453.4,363.5 v2.4 M456.5,363.5 v2.4 M459.2,363.5 v2.4 M461.6,363.5 v2.4 M463.8,363.5 v4.0 M477.9,363.5 v2.4 M486.2,363.5 v2.4 M492.0,363.5 v2.4 M496.6,363.5 v2.4 M500.3,363.5 v2.4 M503.4,363.5 v2.4 M506.2,363.5 v2.4 M508.6,363.5 v2.4 M510.7,363.5 v4 " stroke="#000" stroke-width="0.8" fill="none"/>
<text x="318.0" y="376.8" font-family="'Liberation Sans', sans-serif" font-size="9.4" textLength="7.9" lengthAdjust="spacingAndGlyphs" fill="#111" stroke="#111" stroke-width="0.45">10</text>
<text x="325.9" y="373.1" font-family="'Liberation Sans', sans-serif" font-size="8.4" textLength="4.3" lengthAdjust="spacingAndGlyphs" fill="#111" stroke="#111" stroke-width="0.4">0</text>
<text x="364.9" y="376.8" font-family="'Liberation Sans', sans-serif" font-size="9.4" textLength="7.9" lengthAdjust="spacingAndGlyphs" fill="#111" stroke="#111" stroke-width="0.45">10</text>
<text x="372.8" y="373.1" font-family="'Liberation Sans', sans-serif" font-size="8.4" textLength="4.3" lengthAdjust="spacingAndGlyphs" fill="#111" stroke="#111" stroke-width="0.4">1</text>
<text x="411.9" y="376.8" font-family="'Liberation Sans', sans-serif" font-size="9.4" textLength="7.9" lengthAdjust="spacingAndGlyphs" fill="#111" stroke="#111" stroke-width="0.45">10</text>
<text x="419.8" y="373.1" font-family="'Liberation Sans', sans-serif" font-size="8.4" textLength="4.3" lengthAdjust="spacingAndGlyphs" fill="#111" stroke="#111" stroke-width="0.4">2</text>
<text x="458.8" y="376.8" font-family="'Liberation Sans', sans-serif" font-size="9.4" textLength="7.9" lengthAdjust="spacingAndGlyphs" fill="#111" stroke="#111" stroke-width="0.45">10</text>
<text x="466.7" y="373.1" font-family="'Liberation Sans', sans-serif" font-size="8.4" textLength="4.3" lengthAdjust="spacingAndGlyphs" fill="#111" stroke="#111" stroke-width="0.4">3</text>
<text x="503.7" y="376.8" font-family="'Liberation Sans', sans-serif" font-size="9.4" textLength="7.9" lengthAdjust="spacingAndGlyphs" fill="#111" stroke="#111" stroke-width="0.45">10</text>
<text x="511.6" y="373.1" font-family="'Liberation Sans', sans-serif" font-size="8.4" textLength="4.3" lengthAdjust="spacingAndGlyphs" fill="#111" stroke="#111" stroke-width="0.4">4</text>
<text x="508.7" y="219.9" font-family="'Liberation Serif', serif" font-weight="bold" font-size="12.15" text-anchor="end" fill="#000">hi SB203580</text>
<text x="476.8" y="236.4" font-family="'Liberation Sans', sans-serif" font-weight="bold" font-size="19" text-anchor="middle" fill="#000">+</text>
<text x="473.9" y="247.1" font-family="'Liberation Serif', serif" font-weight="bold" font-size="12.15" text-anchor="middle" fill="#000">PD98059</text>
<text x="1.9" y="26.0" font-family="'Liberation Sans', sans-serif" font-weight="bold" font-size="30.5" fill="#000">A</text>
<text x="0.9" y="456.8" font-family="'Liberation Sans', sans-serif" font-weight="bold" font-size="30.5" fill="#000">B</text>
<path d="M109,400.4 H252.5 M339.5,400.4 H478" stroke="#000" stroke-width="2.3" fill="none"/>
<path d="M476.8,395.4 L489.6,400.2 L476.8,405.0 Z" fill="#000"/>
<text x="296.9" y="405.7" font-family="'Liberation Serif', serif" font-weight="bold" font-size="15.95" text-anchor="middle" fill="#000">HECA-452</text>
<rect x="140.6" y="434.40" width="53.70" height="26.00" fill="#000"/>
<path d="M193.8,447.90 H219.5 M219.4,442.70 V454.40" stroke="#000" stroke-width="1.4" fill="none"/>
<text x="130.7" y="452.4" font-family="'Liberation Serif', serif" font-weight="bold" font-size="10.5" text-anchor="end" fill="#000">no PMA</text>
<rect x="140.6" y="462.40" width="312.30" height="25.00" fill="#000"/>
<path d="M452.4,474.90 H473.2 M473.1,469.70 V481.40" stroke="#000" stroke-width="1.4" fill="none"/>
<text x="130.7" y="479.0" font-family="'Liberation Serif', serif" font-weight="bold" font-size="10.5" text-anchor="end" fill="#000">PMA only</text>
<rect x="140.6" y="489.40" width="232.60" height="25.00" fill="#000"/>
<path d="M372.7,501.90 H396.9 M396.8,496.70 V508.40" stroke="#000" stroke-width="1.4" fill="none"/>
<text x="130.7" y="505.6" font-family="'Liberation Serif', serif" font-weight="bold" font-size="10.5" text-anchor="end" fill="#000">+ PD98059</text>
<text x="403.7" y="513.1" font-family="'Liberation Serif', serif" font-weight="bold" font-size="20" text-anchor="middle" fill="#000">*</text>
<rect x="140.6" y="516.40" width="282.80" height="25.00" fill="#000"/>
<path d="M422.9,528.90 H454.5 M454.4,523.70 V535.40" stroke="#000" stroke-width="1.4" fill="none"/>
<text x="130.7" y="532.3" font-family="'Liberation Serif', serif" font-weight="bold" font-size="10.5" text-anchor="end" fill="#000">+ low SB203580</text>
<rect x="140.6" y="543.40" width="213.60" height="25.00" fill="#000"/>
<path d="M353.7,555.90 H380.0 M379.9,550.70 V562.40" stroke="#000" stroke-width="1.4" fill="none"/>
<text x="130.7" y="558.9" font-family="'Liberation Serif', serif" font-weight="bold" font-size="10.5" text-anchor="end" fill="#000">+ high SB203580</text>
<text x="386.8" y="567.1" font-family="'Liberation Serif', serif" font-weight="bold" font-size="20" text-anchor="middle" fill="#000">*</text>
<rect x="140.6" y="570.40" width="260.40" height="25.00" fill="#000"/>
<path d="M400.5,582.90 H429.8 M429.7,577.70 V589.40" stroke="#000" stroke-width="1.4" fill="none"/>
<text x="130.7" y="585.5" font-family="'Liberation Serif', serif" font-weight="bold" font-size="10.5" text-anchor="end" fill="#000">+ PD98059 + low SB203580</text>
<rect x="140.6" y="597.40" width="57.10" height="25.00" fill="#000"/>
<path d="M197.2,609.90 H232.2 M232.1,604.70 V616.40" stroke="#000" stroke-width="1.4" fill="none"/>
<text x="130.7" y="612.1" font-family="'Liberation Serif', serif" font-weight="bold" font-size="10.5" text-anchor="end" fill="#000">+ PD98059 + high SB203580</text>
<text x="239.0" y="621.1" font-family="'Liberation Serif', serif" font-weight="bold" font-size="20" text-anchor="middle" fill="#000">*</text>
<text x="249.2" y="621.1" font-family="'Liberation Serif', serif" font-weight="bold" font-size="20" text-anchor="middle" fill="#000">*</text>
<rect x="140.6" y="624.40" width="280.00" height="25.00" fill="#000"/>
<path d="M420.1,636.90 H448.0 M447.9,631.70 V643.40" stroke="#000" stroke-width="1.4" fill="none"/>
<text x="128.0" y="638.7" font-family="'Liberation Serif', serif" font-weight="bold" font-size="10.5" text-anchor="end" fill="#000">+ MerckA</text>
<rect x="140.6" y="651.40" width="228.60" height="25.00" fill="#000"/>
<path d="M368.7,663.90 H390.2 M390.1,658.70 V670.40" stroke="#000" stroke-width="1.4" fill="none"/>
<text x="128.0" y="665.4" font-family="'Liberation Serif', serif" font-weight="bold" font-size="10.5" text-anchor="end" fill="#000">+ PD98059 + MerckA</text>
<text x="397.0" y="675.1" font-family="'Liberation Serif', serif" font-weight="bold" font-size="20" text-anchor="middle" fill="#000">*</text>
<rect x="140.6" y="678.40" width="293.00" height="25.00" fill="#000"/>
<path d="M433.1,690.90 H456.7 M456.6,685.70 V697.40" stroke="#000" stroke-width="1.4" fill="none"/>
<text x="128.0" y="692.0" font-family="'Liberation Serif', serif" font-weight="bold" font-size="10.5" text-anchor="end" fill="#000">+ MerckC</text>
<rect x="140.6" y="705.40" width="229.60" height="25.00" fill="#000"/>
<path d="M369.7,717.90 H393.8 M393.7,712.70 V724.40" stroke="#000" stroke-width="1.4" fill="none"/>
<text x="128.0" y="718.6" font-family="'Liberation Serif', serif" font-weight="bold" font-size="10.5" text-anchor="end" fill="#000">+ PD98059 + MerckC</text>
<text x="400.6" y="729.1" font-family="'Liberation Serif', serif" font-weight="bold" font-size="20" text-anchor="middle" fill="#000">*</text>
<path d="M140.6,434.4 H490.6 V731.4" fill="none" stroke="#000" stroke-width="1.3"/>
<path d="M140.6,433.9 V732.0" fill="none" stroke="#000" stroke-width="1.3"/>
<path d="M140.1,731.4 H491.1" fill="none" stroke="#000" stroke-width="1.3"/>
<path d="M138.0,434.40 H140.6 M138.0,461.40 H140.6 M138.0,488.40 H140.6 M138.0,515.40 H140.6 M138.0,542.40 H140.6 M138.0,569.40 H140.6 M138.0,596.40 H140.6 M138.0,623.40 H140.6 M138.0,650.40 H140.6 M138.0,677.40 H140.6 M138.0,704.40 H140.6 M138.0,731.40 H140.6 " stroke="#000" stroke-width="0.9" fill="none"/>
<path d="M140.60,731.4 v3.2 M169.77,731.4 v2.0 M198.93,731.4 v3.2 M228.10,731.4 v2.0 M257.27,731.4 v3.2 M286.43,731.4 v2.0 M315.60,731.4 v3.2 M344.77,731.4 v2.0 M373.93,731.4 v3.2 M403.10,731.4 v2.0 M432.27,731.4 v3.2 M461.43,731.4 v2.0 M490.60,731.4 v3.2 " stroke="#000" stroke-width="1" fill="none"/>
<text x="140.6" y="747.9" font-family="'Liberation Serif', serif" font-weight="bold" font-size="10" text-anchor="middle" fill="#000">0</text>
<text x="198.9" y="747.9" font-family="'Liberation Serif', serif" font-weight="bold" font-size="10" text-anchor="middle" fill="#000">10</text>
<text x="257.3" y="747.9" font-family="'Liberation Serif', serif" font-weight="bold" font-size="10" text-anchor="middle" fill="#000">20</text>
<text x="315.6" y="747.9" font-family="'Liberation Serif', serif" font-weight="bold" font-size="10" text-anchor="middle" fill="#000">30</text>
<text x="373.9" y="747.9" font-family="'Liberation Serif', serif" font-weight="bold" font-size="10" text-anchor="middle" fill="#000">40</text>
<text x="432.3" y="747.9" font-family="'Liberation Serif', serif" font-weight="bold" font-size="10" text-anchor="middle" fill="#000">50</text>
<text x="490.6" y="747.9" font-family="'Liberation Serif', serif" font-weight="bold" font-size="10" text-anchor="middle" fill="#000">60</text>
<text x="325.6" y="776.7" font-family="'Liberation Serif', serif" font-weight="bold" font-size="21.1" text-anchor="middle" fill="#000">% HECA-452+</text>
</svg>
</body></html>
